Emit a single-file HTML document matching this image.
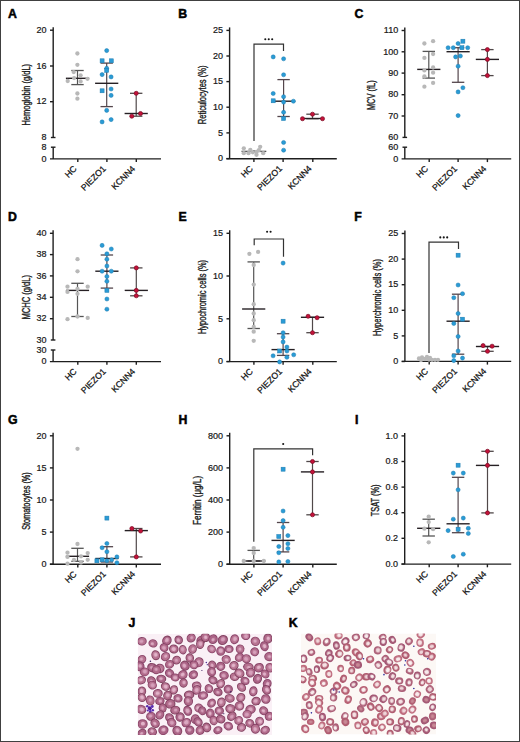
<!DOCTYPE html>
<html><head><meta charset="utf-8"><style>
html,body{margin:0;padding:0;background:#fff;}
body{width:520px;height:742px;overflow:hidden;}
svg text{font-family:"Liberation Sans",sans-serif;}
</style></head><body>
<svg width="520" height="742" viewBox="0 0 520 742" style="display:block">
<defs><filter id="bl" x="-50%" y="-50%" width="200%" height="200%"><feGaussianBlur stdDeviation="0.7"/></filter><filter id="bl2" x="-5%" y="-5%" width="110%" height="110%"><feGaussianBlur stdDeviation="0.35"/></filter></defs>
<rect x="0" y="0" width="520" height="742" fill="#fff"/>
<text x="7.90" y="17.90" font-size="12.3" text-anchor="start" font-weight="bold" fill="#000" stroke="#000" stroke-width="0.5">A</text>
<line x1="53.20" y1="27.20" x2="53.20" y2="137.50" stroke="#1e1e1e" stroke-width="1.4"/>
<line x1="50.90" y1="137.50" x2="55.50" y2="137.50" stroke="#1e1e1e" stroke-width="1.4"/>
<line x1="50.90" y1="147.20" x2="55.50" y2="147.20" stroke="#1e1e1e" stroke-width="1.4"/>
<line x1="53.20" y1="147.20" x2="53.20" y2="158.90" stroke="#1e1e1e" stroke-width="1.4"/>
<line x1="50.00" y1="30.20" x2="53.20" y2="30.20" stroke="#1e1e1e" stroke-width="1.4"/>
<text x="46.60" y="32.95" font-size="9" text-anchor="end" font-weight="normal" fill="#1a1a1a" stroke="#111" stroke-width="0.2">20</text>
<line x1="50.00" y1="66.00" x2="53.20" y2="66.00" stroke="#1e1e1e" stroke-width="1.4"/>
<text x="46.60" y="68.75" font-size="9" text-anchor="end" font-weight="normal" fill="#1a1a1a" stroke="#111" stroke-width="0.2">16</text>
<line x1="50.00" y1="101.70" x2="53.20" y2="101.70" stroke="#1e1e1e" stroke-width="1.4"/>
<text x="46.60" y="104.45" font-size="9" text-anchor="end" font-weight="normal" fill="#1a1a1a" stroke="#111" stroke-width="0.2">12</text>
<text x="46.60" y="140.25" font-size="9" text-anchor="end" font-weight="normal" fill="#1a1a1a" stroke="#111" stroke-width="0.2">8</text>
<text x="46.60" y="149.95" font-size="9" text-anchor="end" font-weight="normal" fill="#1a1a1a" stroke="#111" stroke-width="0.2">8</text>
<text x="46.60" y="161.65" font-size="9" text-anchor="end" font-weight="normal" fill="#1a1a1a" stroke="#111" stroke-width="0.2">0</text>
<line x1="50.00" y1="158.90" x2="161.00" y2="158.90" stroke="#1e1e1e" stroke-width="1.4"/>
<line x1="77.80" y1="158.90" x2="77.80" y2="162.10" stroke="#1e1e1e" stroke-width="1.4"/>
<text x="77.30" y="169.40" font-size="8.7" text-anchor="end" fill="#111" stroke="#111" stroke-width="0.25" transform="rotate(-45 77.30 169.40)">HC</text>
<line x1="106.90" y1="158.90" x2="106.90" y2="162.10" stroke="#1e1e1e" stroke-width="1.4"/>
<text x="106.40" y="169.40" font-size="8.7" text-anchor="end" fill="#111" stroke="#111" stroke-width="0.25" transform="rotate(-45 106.40 169.40)">PIEZO1</text>
<line x1="136.30" y1="158.90" x2="136.30" y2="162.10" stroke="#1e1e1e" stroke-width="1.4"/>
<text x="135.80" y="169.40" font-size="8.7" text-anchor="end" fill="#111" stroke="#111" stroke-width="0.25" transform="rotate(-45 135.80 169.40)">KCNN4</text>
<text x="29.70" y="94.75" font-size="10" font-weight="normal" text-anchor="middle" stroke="#1a1a1a" stroke-width="0.35" fill="#1a1a1a" textLength="61.6" lengthAdjust="spacingAndGlyphs" transform="rotate(-90 29.70 94.75)">Hemoglobin (g/dL)</text>
<line x1="77.50" y1="70.50" x2="77.50" y2="84.60" stroke="#555555" stroke-width="1.2"/>
<line x1="71.30" y1="70.50" x2="83.70" y2="70.50" stroke="#555555" stroke-width="1.3"/>
<line x1="71.30" y1="84.60" x2="83.70" y2="84.60" stroke="#555555" stroke-width="1.3"/>
<line x1="106.70" y1="63.10" x2="106.70" y2="106.60" stroke="#54464c" stroke-width="1.2"/>
<line x1="100.50" y1="63.10" x2="112.90" y2="63.10" stroke="#54464c" stroke-width="1.3"/>
<line x1="100.50" y1="106.60" x2="112.90" y2="106.60" stroke="#54464c" stroke-width="1.3"/>
<line x1="136.20" y1="93.30" x2="136.20" y2="116.20" stroke="#504849" stroke-width="1.2"/>
<line x1="130.00" y1="93.30" x2="142.40" y2="93.30" stroke="#504849" stroke-width="1.3"/>
<line x1="130.00" y1="116.20" x2="142.40" y2="116.20" stroke="#504849" stroke-width="1.3"/>
<line x1="65.90" y1="78.30" x2="89.10" y2="78.30" stroke="#262024" stroke-width="1.4"/>
<line x1="95.10" y1="83.30" x2="118.30" y2="83.30" stroke="#262024" stroke-width="1.4"/>
<line x1="124.60" y1="113.50" x2="147.80" y2="113.50" stroke="#262024" stroke-width="1.4"/>
<circle cx="77.40" cy="53.50" r="2.15" fill="#b8b8b8"/>
<circle cx="77.40" cy="64.80" r="2.15" fill="#b8b8b8"/>
<circle cx="73.70" cy="72.10" r="2.15" fill="#b8b8b8"/>
<circle cx="80.60" cy="75.30" r="2.15" fill="#b8b8b8"/>
<circle cx="74.10" cy="78.10" r="2.15" fill="#b8b8b8"/>
<circle cx="87.50" cy="78.80" r="2.15" fill="#b8b8b8"/>
<circle cx="67.70" cy="81.00" r="2.15" fill="#b8b8b8"/>
<circle cx="80.60" cy="81.40" r="2.15" fill="#b8b8b8"/>
<circle cx="77.40" cy="93.50" r="2.15" fill="#b8b8b8"/>
<circle cx="77.40" cy="98.70" r="2.15" fill="#b8b8b8"/>
<circle cx="106.70" cy="50.60" r="2.05" fill="#2a9bd5" stroke="#1d7cb0" stroke-width="0.5"/>
<rect x="100.10" y="58.80" width="4.0" height="4.0" fill="#2a9bd5" stroke="#1d7cb0" stroke-width="0.5"/>
<rect x="109.30" y="58.80" width="4.0" height="4.0" fill="#2a9bd5" stroke="#1d7cb0" stroke-width="0.5"/>
<circle cx="106.70" cy="68.30" r="2.05" fill="#2a9bd5" stroke="#1d7cb0" stroke-width="0.5"/>
<rect x="104.70" y="68.40" width="4.0" height="4.0" fill="#2a9bd5" stroke="#1d7cb0" stroke-width="0.5"/>
<circle cx="102.10" cy="74.60" r="2.05" fill="#2a9bd5" stroke="#1d7cb0" stroke-width="0.5"/>
<circle cx="111.10" cy="76.90" r="2.05" fill="#2a9bd5" stroke="#1d7cb0" stroke-width="0.5"/>
<rect x="100.10" y="88.80" width="4.0" height="4.0" fill="#2a9bd5" stroke="#1d7cb0" stroke-width="0.5"/>
<circle cx="111.10" cy="89.00" r="2.05" fill="#2a9bd5" stroke="#1d7cb0" stroke-width="0.5"/>
<circle cx="111.10" cy="95.40" r="2.05" fill="#2a9bd5" stroke="#1d7cb0" stroke-width="0.5"/>
<circle cx="106.70" cy="110.40" r="2.05" fill="#2a9bd5" stroke="#1d7cb0" stroke-width="0.5"/>
<circle cx="102.10" cy="121.90" r="2.05" fill="#2a9bd5" stroke="#1d7cb0" stroke-width="0.5"/>
<circle cx="111.10" cy="119.60" r="2.05" fill="#2a9bd5" stroke="#1d7cb0" stroke-width="0.5"/>
<circle cx="136.20" cy="93.30" r="2.05" fill="#c4123a" stroke="#7a0a22" stroke-width="0.7"/>
<circle cx="131.80" cy="116.20" r="2.05" fill="#c4123a" stroke="#7a0a22" stroke-width="0.7"/>
<circle cx="140.50" cy="113.50" r="2.05" fill="#c4123a" stroke="#7a0a22" stroke-width="0.7"/>
<text x="178.30" y="17.90" font-size="12.3" text-anchor="start" font-weight="bold" fill="#000" stroke="#000" stroke-width="0.5">B</text>
<line x1="229.60" y1="27.40" x2="229.60" y2="158.70" stroke="#1e1e1e" stroke-width="1.4"/>
<line x1="226.40" y1="30.40" x2="229.60" y2="30.40" stroke="#1e1e1e" stroke-width="1.4"/>
<text x="223.00" y="33.15" font-size="9" text-anchor="end" font-weight="normal" fill="#1a1a1a" stroke="#111" stroke-width="0.2">25</text>
<line x1="226.40" y1="56.00" x2="229.60" y2="56.00" stroke="#1e1e1e" stroke-width="1.4"/>
<text x="223.00" y="58.75" font-size="9" text-anchor="end" font-weight="normal" fill="#1a1a1a" stroke="#111" stroke-width="0.2">20</text>
<line x1="226.40" y1="81.60" x2="229.60" y2="81.60" stroke="#1e1e1e" stroke-width="1.4"/>
<text x="223.00" y="84.35" font-size="9" text-anchor="end" font-weight="normal" fill="#1a1a1a" stroke="#111" stroke-width="0.2">15</text>
<line x1="226.40" y1="107.20" x2="229.60" y2="107.20" stroke="#1e1e1e" stroke-width="1.4"/>
<text x="223.00" y="109.95" font-size="9" text-anchor="end" font-weight="normal" fill="#1a1a1a" stroke="#111" stroke-width="0.2">10</text>
<line x1="226.40" y1="132.90" x2="229.60" y2="132.90" stroke="#1e1e1e" stroke-width="1.4"/>
<text x="223.00" y="135.65" font-size="9" text-anchor="end" font-weight="normal" fill="#1a1a1a" stroke="#111" stroke-width="0.2">5</text>
<line x1="226.40" y1="158.60" x2="229.60" y2="158.60" stroke="#1e1e1e" stroke-width="1.4"/>
<text x="223.00" y="161.35" font-size="9" text-anchor="end" font-weight="normal" fill="#1a1a1a" stroke="#111" stroke-width="0.2">0</text>
<line x1="226.40" y1="158.70" x2="336.80" y2="158.70" stroke="#1e1e1e" stroke-width="1.4"/>
<line x1="253.90" y1="158.70" x2="253.90" y2="161.90" stroke="#1e1e1e" stroke-width="1.4"/>
<text x="253.40" y="169.20" font-size="8.7" text-anchor="end" fill="#111" stroke="#111" stroke-width="0.25" transform="rotate(-45 253.40 169.20)">HC</text>
<line x1="283.10" y1="158.70" x2="283.10" y2="161.90" stroke="#1e1e1e" stroke-width="1.4"/>
<text x="282.60" y="169.20" font-size="8.7" text-anchor="end" fill="#111" stroke="#111" stroke-width="0.25" transform="rotate(-45 282.60 169.20)">PIEZO1</text>
<line x1="312.80" y1="158.70" x2="312.80" y2="161.90" stroke="#1e1e1e" stroke-width="1.4"/>
<text x="312.30" y="169.20" font-size="8.7" text-anchor="end" fill="#111" stroke="#111" stroke-width="0.25" transform="rotate(-45 312.30 169.20)">KCNN4</text>
<text x="206.00" y="94.85" font-size="10" font-weight="normal" text-anchor="middle" stroke="#1a1a1a" stroke-width="0.35" fill="#1a1a1a" textLength="58.6" lengthAdjust="spacingAndGlyphs" transform="rotate(-90 206.00 94.85)">Reticulocytes (%)</text>
<polyline points="254,141 254,44.1 283.5,44.1 283.5,51" fill="none" stroke="#333" stroke-width="1.2"/>
<circle cx="265.30" cy="39.30" r="1.05" fill="#151515"/>
<circle cx="268.75" cy="39.30" r="1.05" fill="#151515"/>
<circle cx="272.20" cy="39.30" r="1.05" fill="#151515"/>
<line x1="253.90" y1="150.00" x2="253.90" y2="153.00" stroke="#555555" stroke-width="1.2"/>
<line x1="253.90" y1="150.00" x2="253.90" y2="150.00" stroke="#555555" stroke-width="1.3"/>
<line x1="253.90" y1="153.00" x2="253.90" y2="153.00" stroke="#555555" stroke-width="1.3"/>
<line x1="283.60" y1="79.60" x2="283.60" y2="116.50" stroke="#54464c" stroke-width="1.2"/>
<line x1="277.40" y1="79.60" x2="289.80" y2="79.60" stroke="#54464c" stroke-width="1.3"/>
<line x1="277.40" y1="116.50" x2="289.80" y2="116.50" stroke="#54464c" stroke-width="1.3"/>
<line x1="312.50" y1="114.20" x2="312.50" y2="118.70" stroke="#504849" stroke-width="1.2"/>
<line x1="306.30" y1="114.20" x2="318.70" y2="114.20" stroke="#504849" stroke-width="1.3"/>
<line x1="306.30" y1="118.70" x2="318.70" y2="118.70" stroke="#504849" stroke-width="1.3"/>
<line x1="241.50" y1="151.40" x2="266.30" y2="151.40" stroke="#555" stroke-width="1.4"/>
<line x1="272.00" y1="101.20" x2="295.20" y2="101.20" stroke="#262024" stroke-width="1.4"/>
<line x1="302.50" y1="118.50" x2="322.50" y2="118.50" stroke="#262024" stroke-width="1.4"/>
<circle cx="243.80" cy="148.30" r="2.15" fill="#b8b8b8"/>
<circle cx="243.80" cy="153.20" r="2.15" fill="#b8b8b8"/>
<circle cx="250.30" cy="149.80" r="2.15" fill="#b8b8b8"/>
<circle cx="248.50" cy="153.20" r="2.15" fill="#b8b8b8"/>
<circle cx="252.80" cy="152.30" r="2.15" fill="#b8b8b8"/>
<circle cx="256.50" cy="154.80" r="2.15" fill="#b8b8b8"/>
<circle cx="256.50" cy="152.00" r="2.15" fill="#b8b8b8"/>
<circle cx="260.20" cy="146.80" r="2.15" fill="#b8b8b8"/>
<circle cx="258.90" cy="150.20" r="2.15" fill="#b8b8b8"/>
<circle cx="263.20" cy="153.20" r="2.15" fill="#b8b8b8"/>
<circle cx="273.20" cy="56.90" r="2.05" fill="#2a9bd5" stroke="#1d7cb0" stroke-width="0.5"/>
<circle cx="283.60" cy="58.80" r="2.05" fill="#2a9bd5" stroke="#1d7cb0" stroke-width="0.5"/>
<circle cx="283.60" cy="74.80" r="2.05" fill="#2a9bd5" stroke="#1d7cb0" stroke-width="0.5"/>
<circle cx="273.20" cy="93.50" r="2.05" fill="#2a9bd5" stroke="#1d7cb0" stroke-width="0.5"/>
<circle cx="283.60" cy="96.70" r="2.05" fill="#2a9bd5" stroke="#1d7cb0" stroke-width="0.5"/>
<rect x="271.20" y="98.80" width="4.0" height="4.0" fill="#2a9bd5" stroke="#1d7cb0" stroke-width="0.5"/>
<circle cx="283.60" cy="102.10" r="2.05" fill="#2a9bd5" stroke="#1d7cb0" stroke-width="0.5"/>
<circle cx="293.40" cy="101.20" r="2.05" fill="#2a9bd5" stroke="#1d7cb0" stroke-width="0.5"/>
<circle cx="283.60" cy="112.30" r="2.05" fill="#2a9bd5" stroke="#1d7cb0" stroke-width="0.5"/>
<rect x="281.60" y="116.50" width="4.0" height="4.0" fill="#2a9bd5" stroke="#1d7cb0" stroke-width="0.5"/>
<circle cx="283.60" cy="142.50" r="2.05" fill="#2a9bd5" stroke="#1d7cb0" stroke-width="0.5"/>
<circle cx="283.60" cy="150.20" r="2.05" fill="#2a9bd5" stroke="#1d7cb0" stroke-width="0.5"/>
<circle cx="312.50" cy="114.20" r="2.05" fill="#c4123a" stroke="#7a0a22" stroke-width="0.7"/>
<circle cx="302.50" cy="118.70" r="2.05" fill="#c4123a" stroke="#7a0a22" stroke-width="0.7"/>
<circle cx="322.50" cy="118.70" r="2.05" fill="#c4123a" stroke="#7a0a22" stroke-width="0.7"/>
<text x="354.50" y="17.90" font-size="12.3" text-anchor="start" font-weight="bold" fill="#000" stroke="#000" stroke-width="0.5">C</text>
<line x1="404.80" y1="27.50" x2="404.80" y2="137.40" stroke="#1e1e1e" stroke-width="1.4"/>
<line x1="402.50" y1="137.40" x2="407.10" y2="137.40" stroke="#1e1e1e" stroke-width="1.4"/>
<line x1="402.50" y1="147.20" x2="407.10" y2="147.20" stroke="#1e1e1e" stroke-width="1.4"/>
<line x1="404.80" y1="147.20" x2="404.80" y2="158.90" stroke="#1e1e1e" stroke-width="1.4"/>
<line x1="401.60" y1="30.50" x2="404.80" y2="30.50" stroke="#1e1e1e" stroke-width="1.4"/>
<text x="398.20" y="33.25" font-size="9" text-anchor="end" font-weight="normal" fill="#1a1a1a" stroke="#111" stroke-width="0.2">110</text>
<line x1="401.60" y1="51.80" x2="404.80" y2="51.80" stroke="#1e1e1e" stroke-width="1.4"/>
<text x="398.20" y="54.55" font-size="9" text-anchor="end" font-weight="normal" fill="#1a1a1a" stroke="#111" stroke-width="0.2">100</text>
<line x1="401.60" y1="73.10" x2="404.80" y2="73.10" stroke="#1e1e1e" stroke-width="1.4"/>
<text x="398.20" y="75.85" font-size="9" text-anchor="end" font-weight="normal" fill="#1a1a1a" stroke="#111" stroke-width="0.2">90</text>
<line x1="401.60" y1="94.70" x2="404.80" y2="94.70" stroke="#1e1e1e" stroke-width="1.4"/>
<text x="398.20" y="97.45" font-size="9" text-anchor="end" font-weight="normal" fill="#1a1a1a" stroke="#111" stroke-width="0.2">80</text>
<line x1="401.60" y1="116.00" x2="404.80" y2="116.00" stroke="#1e1e1e" stroke-width="1.4"/>
<text x="398.20" y="118.75" font-size="9" text-anchor="end" font-weight="normal" fill="#1a1a1a" stroke="#111" stroke-width="0.2">70</text>
<text x="398.20" y="140.15" font-size="9" text-anchor="end" font-weight="normal" fill="#1a1a1a" stroke="#111" stroke-width="0.2">60</text>
<text x="398.20" y="149.95" font-size="9" text-anchor="end" font-weight="normal" fill="#1a1a1a" stroke="#111" stroke-width="0.2">60</text>
<text x="398.20" y="161.65" font-size="9" text-anchor="end" font-weight="normal" fill="#1a1a1a" stroke="#111" stroke-width="0.2">0</text>
<line x1="401.60" y1="158.90" x2="511.20" y2="158.90" stroke="#1e1e1e" stroke-width="1.4"/>
<line x1="429.20" y1="158.90" x2="429.20" y2="162.10" stroke="#1e1e1e" stroke-width="1.4"/>
<text x="428.70" y="169.40" font-size="8.7" text-anchor="end" fill="#111" stroke="#111" stroke-width="0.25" transform="rotate(-45 428.70 169.40)">HC</text>
<line x1="458.10" y1="158.90" x2="458.10" y2="162.10" stroke="#1e1e1e" stroke-width="1.4"/>
<text x="457.60" y="169.40" font-size="8.7" text-anchor="end" fill="#111" stroke="#111" stroke-width="0.25" transform="rotate(-45 457.60 169.40)">PIEZO1</text>
<line x1="487.40" y1="158.90" x2="487.40" y2="162.10" stroke="#1e1e1e" stroke-width="1.4"/>
<text x="486.90" y="169.40" font-size="8.7" text-anchor="end" fill="#111" stroke="#111" stroke-width="0.25" transform="rotate(-45 486.90 169.40)">KCNN4</text>
<text x="375.50" y="95.20" font-size="10" font-weight="normal" text-anchor="middle" stroke="#1a1a1a" stroke-width="0.35" fill="#1a1a1a" textLength="29.8" lengthAdjust="spacingAndGlyphs" transform="rotate(-90 375.50 95.20)">MCV (fL)</text>
<line x1="428.80" y1="51.40" x2="428.80" y2="78.10" stroke="#555555" stroke-width="1.2"/>
<line x1="422.60" y1="51.40" x2="435.00" y2="51.40" stroke="#555555" stroke-width="1.3"/>
<line x1="422.60" y1="78.10" x2="435.00" y2="78.10" stroke="#555555" stroke-width="1.3"/>
<line x1="458.10" y1="47.70" x2="458.10" y2="82.30" stroke="#54464c" stroke-width="1.2"/>
<line x1="451.90" y1="47.70" x2="464.30" y2="47.70" stroke="#54464c" stroke-width="1.3"/>
<line x1="451.90" y1="82.30" x2="464.30" y2="82.30" stroke="#54464c" stroke-width="1.3"/>
<line x1="487.40" y1="49.60" x2="487.40" y2="75.60" stroke="#504849" stroke-width="1.2"/>
<line x1="481.20" y1="49.60" x2="493.60" y2="49.60" stroke="#504849" stroke-width="1.3"/>
<line x1="481.20" y1="75.60" x2="493.60" y2="75.60" stroke="#504849" stroke-width="1.3"/>
<line x1="417.20" y1="69.40" x2="440.40" y2="69.40" stroke="#262024" stroke-width="1.4"/>
<line x1="446.50" y1="51.70" x2="469.70" y2="51.70" stroke="#262024" stroke-width="1.4"/>
<line x1="475.80" y1="59.40" x2="499.00" y2="59.40" stroke="#262024" stroke-width="1.4"/>
<circle cx="424.40" cy="43.50" r="2.15" fill="#b8b8b8"/>
<circle cx="433.10" cy="41.20" r="2.15" fill="#b8b8b8"/>
<circle cx="433.10" cy="54.00" r="2.15" fill="#b8b8b8"/>
<circle cx="424.40" cy="57.90" r="2.15" fill="#b8b8b8"/>
<circle cx="433.10" cy="67.50" r="2.15" fill="#b8b8b8"/>
<circle cx="424.40" cy="70.40" r="2.15" fill="#b8b8b8"/>
<circle cx="433.10" cy="72.70" r="2.15" fill="#b8b8b8"/>
<circle cx="424.40" cy="76.50" r="2.15" fill="#b8b8b8"/>
<circle cx="424.40" cy="86.70" r="2.15" fill="#b8b8b8"/>
<circle cx="433.10" cy="82.90" r="2.15" fill="#b8b8b8"/>
<rect x="460.90" y="39.20" width="4.0" height="4.0" fill="#2a9bd5" stroke="#1d7cb0" stroke-width="0.5"/>
<circle cx="458.10" cy="43.50" r="2.05" fill="#2a9bd5" stroke="#1d7cb0" stroke-width="0.5"/>
<circle cx="448.10" cy="47.70" r="2.05" fill="#2a9bd5" stroke="#1d7cb0" stroke-width="0.5"/>
<circle cx="453.30" cy="47.70" r="2.05" fill="#2a9bd5" stroke="#1d7cb0" stroke-width="0.5"/>
<rect x="459.90" y="45.70" width="4.0" height="4.0" fill="#2a9bd5" stroke="#1d7cb0" stroke-width="0.5"/>
<circle cx="467.70" cy="47.70" r="2.05" fill="#2a9bd5" stroke="#1d7cb0" stroke-width="0.5"/>
<circle cx="455.60" cy="56.90" r="2.05" fill="#2a9bd5" stroke="#1d7cb0" stroke-width="0.5"/>
<circle cx="460.40" cy="56.00" r="2.05" fill="#2a9bd5" stroke="#1d7cb0" stroke-width="0.5"/>
<circle cx="458.10" cy="66.20" r="2.05" fill="#2a9bd5" stroke="#1d7cb0" stroke-width="0.5"/>
<circle cx="462.90" cy="87.70" r="2.05" fill="#2a9bd5" stroke="#1d7cb0" stroke-width="0.5"/>
<circle cx="458.10" cy="91.90" r="2.05" fill="#2a9bd5" stroke="#1d7cb0" stroke-width="0.5"/>
<circle cx="458.10" cy="115.60" r="2.05" fill="#2a9bd5" stroke="#1d7cb0" stroke-width="0.5"/>
<circle cx="487.40" cy="49.60" r="2.05" fill="#c4123a" stroke="#7a0a22" stroke-width="0.7"/>
<circle cx="487.40" cy="59.40" r="2.05" fill="#c4123a" stroke="#7a0a22" stroke-width="0.7"/>
<circle cx="487.40" cy="75.60" r="2.05" fill="#c4123a" stroke="#7a0a22" stroke-width="0.7"/>
<text x="7.90" y="220.80" font-size="12.3" text-anchor="start" font-weight="bold" fill="#000" stroke="#000" stroke-width="0.5">D</text>
<line x1="53.10" y1="230.30" x2="53.10" y2="340.00" stroke="#1e1e1e" stroke-width="1.4"/>
<line x1="50.80" y1="340.00" x2="55.40" y2="340.00" stroke="#1e1e1e" stroke-width="1.4"/>
<line x1="50.80" y1="350.00" x2="55.40" y2="350.00" stroke="#1e1e1e" stroke-width="1.4"/>
<line x1="53.10" y1="350.00" x2="53.10" y2="361.60" stroke="#1e1e1e" stroke-width="1.4"/>
<line x1="49.90" y1="233.30" x2="53.10" y2="233.30" stroke="#1e1e1e" stroke-width="1.4"/>
<text x="46.50" y="236.05" font-size="9" text-anchor="end" font-weight="normal" fill="#1a1a1a" stroke="#111" stroke-width="0.2">40</text>
<line x1="49.90" y1="254.60" x2="53.10" y2="254.60" stroke="#1e1e1e" stroke-width="1.4"/>
<text x="46.50" y="257.35" font-size="9" text-anchor="end" font-weight="normal" fill="#1a1a1a" stroke="#111" stroke-width="0.2">38</text>
<line x1="49.90" y1="275.90" x2="53.10" y2="275.90" stroke="#1e1e1e" stroke-width="1.4"/>
<text x="46.50" y="278.65" font-size="9" text-anchor="end" font-weight="normal" fill="#1a1a1a" stroke="#111" stroke-width="0.2">36</text>
<line x1="49.90" y1="297.30" x2="53.10" y2="297.30" stroke="#1e1e1e" stroke-width="1.4"/>
<text x="46.50" y="300.05" font-size="9" text-anchor="end" font-weight="normal" fill="#1a1a1a" stroke="#111" stroke-width="0.2">34</text>
<line x1="49.90" y1="318.70" x2="53.10" y2="318.70" stroke="#1e1e1e" stroke-width="1.4"/>
<text x="46.50" y="321.45" font-size="9" text-anchor="end" font-weight="normal" fill="#1a1a1a" stroke="#111" stroke-width="0.2">32</text>
<text x="46.50" y="342.75" font-size="9" text-anchor="end" font-weight="normal" fill="#1a1a1a" stroke="#111" stroke-width="0.2">30</text>
<text x="46.50" y="352.75" font-size="9" text-anchor="end" font-weight="normal" fill="#1a1a1a" stroke="#111" stroke-width="0.2">30</text>
<text x="46.50" y="364.35" font-size="9" text-anchor="end" font-weight="normal" fill="#1a1a1a" stroke="#111" stroke-width="0.2">0</text>
<line x1="49.90" y1="361.60" x2="161.00" y2="361.60" stroke="#1e1e1e" stroke-width="1.4"/>
<line x1="77.80" y1="361.60" x2="77.80" y2="364.80" stroke="#1e1e1e" stroke-width="1.4"/>
<text x="77.30" y="372.10" font-size="8.7" text-anchor="end" fill="#111" stroke="#111" stroke-width="0.25" transform="rotate(-45 77.30 372.10)">HC</text>
<line x1="106.90" y1="361.60" x2="106.90" y2="364.80" stroke="#1e1e1e" stroke-width="1.4"/>
<text x="106.40" y="372.10" font-size="8.7" text-anchor="end" fill="#111" stroke="#111" stroke-width="0.25" transform="rotate(-45 106.40 372.10)">PIEZO1</text>
<line x1="136.30" y1="361.60" x2="136.30" y2="364.80" stroke="#1e1e1e" stroke-width="1.4"/>
<text x="135.80" y="372.10" font-size="8.7" text-anchor="end" fill="#111" stroke="#111" stroke-width="0.25" transform="rotate(-45 135.80 372.10)">KCNN4</text>
<text x="29.60" y="297.25" font-size="10" font-weight="normal" text-anchor="middle" stroke="#1a1a1a" stroke-width="0.35" fill="#1a1a1a" textLength="44.6" lengthAdjust="spacingAndGlyphs" transform="rotate(-90 29.60 297.25)">MCHC (g/dL)</text>
<line x1="77.50" y1="283.30" x2="77.50" y2="316.50" stroke="#555555" stroke-width="1.2"/>
<line x1="71.30" y1="283.30" x2="83.70" y2="283.30" stroke="#555555" stroke-width="1.3"/>
<line x1="71.30" y1="316.50" x2="83.70" y2="316.50" stroke="#555555" stroke-width="1.3"/>
<line x1="106.90" y1="255.00" x2="106.90" y2="288.10" stroke="#54464c" stroke-width="1.2"/>
<line x1="100.70" y1="255.00" x2="113.10" y2="255.00" stroke="#54464c" stroke-width="1.3"/>
<line x1="100.70" y1="288.10" x2="113.10" y2="288.10" stroke="#54464c" stroke-width="1.3"/>
<line x1="136.30" y1="267.90" x2="136.30" y2="295.80" stroke="#504849" stroke-width="1.2"/>
<line x1="130.10" y1="267.90" x2="142.50" y2="267.90" stroke="#504849" stroke-width="1.3"/>
<line x1="130.10" y1="295.80" x2="142.50" y2="295.80" stroke="#504849" stroke-width="1.3"/>
<line x1="65.90" y1="290.40" x2="89.10" y2="290.40" stroke="#262024" stroke-width="1.4"/>
<line x1="95.30" y1="271.20" x2="118.50" y2="271.20" stroke="#262024" stroke-width="1.4"/>
<line x1="124.70" y1="290.40" x2="147.90" y2="290.40" stroke="#262024" stroke-width="1.4"/>
<circle cx="77.50" cy="259.20" r="2.15" fill="#b8b8b8"/>
<circle cx="77.50" cy="271.30" r="2.15" fill="#b8b8b8"/>
<circle cx="67.50" cy="286.70" r="2.15" fill="#b8b8b8"/>
<circle cx="87.70" cy="286.70" r="2.15" fill="#b8b8b8"/>
<circle cx="67.50" cy="291.90" r="2.15" fill="#b8b8b8"/>
<circle cx="77.50" cy="289.00" r="2.15" fill="#b8b8b8"/>
<circle cx="77.50" cy="293.80" r="2.15" fill="#b8b8b8"/>
<circle cx="67.50" cy="319.20" r="2.15" fill="#b8b8b8"/>
<circle cx="87.70" cy="317.90" r="2.15" fill="#b8b8b8"/>
<circle cx="77.50" cy="316.50" r="2.15" fill="#b8b8b8"/>
<circle cx="102.10" cy="245.40" r="2.05" fill="#2a9bd5" stroke="#1d7cb0" stroke-width="0.5"/>
<circle cx="111.30" cy="249.00" r="2.05" fill="#2a9bd5" stroke="#1d7cb0" stroke-width="0.5"/>
<circle cx="106.90" cy="253.80" r="2.05" fill="#2a9bd5" stroke="#1d7cb0" stroke-width="0.5"/>
<circle cx="106.90" cy="259.20" r="2.05" fill="#2a9bd5" stroke="#1d7cb0" stroke-width="0.5"/>
<circle cx="106.90" cy="266.00" r="2.05" fill="#2a9bd5" stroke="#1d7cb0" stroke-width="0.5"/>
<circle cx="102.10" cy="271.20" r="2.05" fill="#2a9bd5" stroke="#1d7cb0" stroke-width="0.5"/>
<circle cx="111.30" cy="271.20" r="2.05" fill="#2a9bd5" stroke="#1d7cb0" stroke-width="0.5"/>
<circle cx="106.90" cy="276.50" r="2.05" fill="#2a9bd5" stroke="#1d7cb0" stroke-width="0.5"/>
<circle cx="106.90" cy="281.30" r="2.05" fill="#2a9bd5" stroke="#1d7cb0" stroke-width="0.5"/>
<rect x="104.90" y="288.40" width="4.0" height="4.0" fill="#2a9bd5" stroke="#1d7cb0" stroke-width="0.5"/>
<circle cx="106.90" cy="299.00" r="2.05" fill="#2a9bd5" stroke="#1d7cb0" stroke-width="0.5"/>
<circle cx="106.90" cy="309.20" r="2.05" fill="#2a9bd5" stroke="#1d7cb0" stroke-width="0.5"/>
<circle cx="136.30" cy="267.90" r="2.05" fill="#c4123a" stroke="#7a0a22" stroke-width="0.7"/>
<circle cx="136.30" cy="290.40" r="2.05" fill="#c4123a" stroke="#7a0a22" stroke-width="0.7"/>
<circle cx="136.30" cy="295.80" r="2.05" fill="#c4123a" stroke="#7a0a22" stroke-width="0.7"/>
<text x="178.60" y="220.80" font-size="12.3" text-anchor="start" font-weight="bold" fill="#000" stroke="#000" stroke-width="0.5">E</text>
<line x1="229.70" y1="230.30" x2="229.70" y2="361.60" stroke="#1e1e1e" stroke-width="1.4"/>
<line x1="226.50" y1="233.30" x2="229.70" y2="233.30" stroke="#1e1e1e" stroke-width="1.4"/>
<text x="223.10" y="236.05" font-size="9" text-anchor="end" font-weight="normal" fill="#1a1a1a" stroke="#111" stroke-width="0.2">15</text>
<line x1="226.50" y1="276.00" x2="229.70" y2="276.00" stroke="#1e1e1e" stroke-width="1.4"/>
<text x="223.10" y="278.75" font-size="9" text-anchor="end" font-weight="normal" fill="#1a1a1a" stroke="#111" stroke-width="0.2">10</text>
<line x1="226.50" y1="318.80" x2="229.70" y2="318.80" stroke="#1e1e1e" stroke-width="1.4"/>
<text x="223.10" y="321.55" font-size="9" text-anchor="end" font-weight="normal" fill="#1a1a1a" stroke="#111" stroke-width="0.2">5</text>
<line x1="226.50" y1="361.50" x2="229.70" y2="361.50" stroke="#1e1e1e" stroke-width="1.4"/>
<text x="223.10" y="364.25" font-size="9" text-anchor="end" font-weight="normal" fill="#1a1a1a" stroke="#111" stroke-width="0.2">0</text>
<line x1="226.50" y1="361.60" x2="336.80" y2="361.60" stroke="#1e1e1e" stroke-width="1.4"/>
<line x1="253.90" y1="361.60" x2="253.90" y2="364.80" stroke="#1e1e1e" stroke-width="1.4"/>
<text x="253.40" y="372.10" font-size="8.7" text-anchor="end" fill="#111" stroke="#111" stroke-width="0.25" transform="rotate(-45 253.40 372.10)">HC</text>
<line x1="283.10" y1="361.60" x2="283.10" y2="364.80" stroke="#1e1e1e" stroke-width="1.4"/>
<text x="282.60" y="372.10" font-size="8.7" text-anchor="end" fill="#111" stroke="#111" stroke-width="0.25" transform="rotate(-45 282.60 372.10)">PIEZO1</text>
<line x1="312.80" y1="361.60" x2="312.80" y2="364.80" stroke="#1e1e1e" stroke-width="1.4"/>
<text x="312.30" y="372.10" font-size="8.7" text-anchor="end" fill="#111" stroke="#111" stroke-width="0.25" transform="rotate(-45 312.30 372.10)">KCNN4</text>
<text x="205.60" y="297.00" font-size="10" font-weight="normal" text-anchor="middle" stroke="#1a1a1a" stroke-width="0.35" fill="#1a1a1a" textLength="74.2" lengthAdjust="spacingAndGlyphs" transform="rotate(-90 205.60 297.00)">Hypochromic cells (%)</text>
<polyline points="254.2,245.2 254.2,239 283.5,239 283.5,256.7" fill="none" stroke="#333" stroke-width="1.2"/>
<circle cx="267.12" cy="231.70" r="1.05" fill="#151515"/>
<circle cx="270.58" cy="231.70" r="1.05" fill="#151515"/>
<line x1="253.70" y1="261.90" x2="253.70" y2="328.50" stroke="#555555" stroke-width="1.2"/>
<line x1="247.50" y1="261.90" x2="259.90" y2="261.90" stroke="#555555" stroke-width="1.3"/>
<line x1="247.50" y1="328.50" x2="259.90" y2="328.50" stroke="#555555" stroke-width="1.3"/>
<line x1="283.10" y1="333.70" x2="283.10" y2="355.40" stroke="#54464c" stroke-width="1.2"/>
<line x1="276.90" y1="333.70" x2="289.30" y2="333.70" stroke="#54464c" stroke-width="1.3"/>
<line x1="276.90" y1="355.40" x2="289.30" y2="355.40" stroke="#54464c" stroke-width="1.3"/>
<line x1="312.50" y1="317.30" x2="312.50" y2="332.70" stroke="#504849" stroke-width="1.2"/>
<line x1="306.30" y1="317.30" x2="318.70" y2="317.30" stroke="#504849" stroke-width="1.3"/>
<line x1="306.30" y1="332.70" x2="318.70" y2="332.70" stroke="#504849" stroke-width="1.3"/>
<line x1="242.10" y1="309.00" x2="265.30" y2="309.00" stroke="#262024" stroke-width="1.4"/>
<line x1="271.50" y1="349.60" x2="294.70" y2="349.60" stroke="#262024" stroke-width="1.4"/>
<line x1="300.90" y1="317.30" x2="324.10" y2="317.30" stroke="#262024" stroke-width="1.4"/>
<circle cx="249.40" cy="253.80" r="2.15" fill="#b8b8b8"/>
<circle cx="258.10" cy="251.90" r="2.15" fill="#b8b8b8"/>
<circle cx="253.70" cy="265.00" r="2.15" fill="#b8b8b8"/>
<circle cx="253.70" cy="284.60" r="2.15" fill="#b8b8b8"/>
<circle cx="253.70" cy="304.20" r="2.15" fill="#b8b8b8"/>
<circle cx="253.70" cy="313.50" r="2.15" fill="#b8b8b8"/>
<circle cx="253.70" cy="320.20" r="2.15" fill="#b8b8b8"/>
<circle cx="253.70" cy="326.90" r="2.15" fill="#b8b8b8"/>
<circle cx="253.70" cy="331.70" r="2.15" fill="#b8b8b8"/>
<circle cx="253.70" cy="340.80" r="2.15" fill="#b8b8b8"/>
<circle cx="283.10" cy="263.10" r="2.05" fill="#2a9bd5" stroke="#1d7cb0" stroke-width="0.5"/>
<rect x="281.10" y="319.20" width="4.0" height="4.0" fill="#2a9bd5" stroke="#1d7cb0" stroke-width="0.5"/>
<circle cx="283.10" cy="332.70" r="2.05" fill="#2a9bd5" stroke="#1d7cb0" stroke-width="0.5"/>
<circle cx="283.10" cy="337.10" r="2.05" fill="#2a9bd5" stroke="#1d7cb0" stroke-width="0.5"/>
<circle cx="283.10" cy="341.90" r="2.05" fill="#2a9bd5" stroke="#1d7cb0" stroke-width="0.5"/>
<circle cx="286.90" cy="347.10" r="2.05" fill="#2a9bd5" stroke="#1d7cb0" stroke-width="0.5"/>
<rect x="277.60" y="349.00" width="4.0" height="4.0" fill="#2a9bd5" stroke="#1d7cb0" stroke-width="0.5"/>
<circle cx="286.90" cy="351.00" r="2.05" fill="#2a9bd5" stroke="#1d7cb0" stroke-width="0.5"/>
<circle cx="273.10" cy="355.80" r="2.05" fill="#2a9bd5" stroke="#1d7cb0" stroke-width="0.5"/>
<circle cx="293.70" cy="354.80" r="2.05" fill="#2a9bd5" stroke="#1d7cb0" stroke-width="0.5"/>
<circle cx="286.90" cy="357.30" r="2.05" fill="#2a9bd5" stroke="#1d7cb0" stroke-width="0.5"/>
<circle cx="279.60" cy="361.90" r="2.05" fill="#2a9bd5" stroke="#1d7cb0" stroke-width="0.5"/>
<circle cx="308.10" cy="316.30" r="2.05" fill="#c4123a" stroke="#7a0a22" stroke-width="0.7"/>
<circle cx="317.10" cy="317.70" r="2.05" fill="#c4123a" stroke="#7a0a22" stroke-width="0.7"/>
<circle cx="312.50" cy="332.70" r="2.05" fill="#c4123a" stroke="#7a0a22" stroke-width="0.7"/>
<text x="354.30" y="220.80" font-size="12.3" text-anchor="start" font-weight="bold" fill="#000" stroke="#000" stroke-width="0.5">F</text>
<line x1="404.90" y1="230.50" x2="404.90" y2="361.40" stroke="#1e1e1e" stroke-width="1.4"/>
<line x1="401.70" y1="233.50" x2="404.90" y2="233.50" stroke="#1e1e1e" stroke-width="1.4"/>
<text x="398.30" y="236.25" font-size="9" text-anchor="end" font-weight="normal" fill="#1a1a1a" stroke="#111" stroke-width="0.2">25</text>
<line x1="401.70" y1="259.10" x2="404.90" y2="259.10" stroke="#1e1e1e" stroke-width="1.4"/>
<text x="398.30" y="261.85" font-size="9" text-anchor="end" font-weight="normal" fill="#1a1a1a" stroke="#111" stroke-width="0.2">20</text>
<line x1="401.70" y1="284.70" x2="404.90" y2="284.70" stroke="#1e1e1e" stroke-width="1.4"/>
<text x="398.30" y="287.45" font-size="9" text-anchor="end" font-weight="normal" fill="#1a1a1a" stroke="#111" stroke-width="0.2">15</text>
<line x1="401.70" y1="310.30" x2="404.90" y2="310.30" stroke="#1e1e1e" stroke-width="1.4"/>
<text x="398.30" y="313.05" font-size="9" text-anchor="end" font-weight="normal" fill="#1a1a1a" stroke="#111" stroke-width="0.2">10</text>
<line x1="401.70" y1="335.90" x2="404.90" y2="335.90" stroke="#1e1e1e" stroke-width="1.4"/>
<text x="398.30" y="338.65" font-size="9" text-anchor="end" font-weight="normal" fill="#1a1a1a" stroke="#111" stroke-width="0.2">5</text>
<line x1="401.70" y1="361.50" x2="404.90" y2="361.50" stroke="#1e1e1e" stroke-width="1.4"/>
<text x="398.30" y="364.25" font-size="9" text-anchor="end" font-weight="normal" fill="#1a1a1a" stroke="#111" stroke-width="0.2">0</text>
<line x1="401.70" y1="361.40" x2="511.20" y2="361.40" stroke="#1e1e1e" stroke-width="1.4"/>
<line x1="429.20" y1="361.40" x2="429.20" y2="364.60" stroke="#1e1e1e" stroke-width="1.4"/>
<text x="428.70" y="371.90" font-size="8.7" text-anchor="end" fill="#111" stroke="#111" stroke-width="0.25" transform="rotate(-45 428.70 371.90)">HC</text>
<line x1="458.10" y1="361.40" x2="458.10" y2="364.60" stroke="#1e1e1e" stroke-width="1.4"/>
<text x="457.60" y="371.90" font-size="8.7" text-anchor="end" fill="#111" stroke="#111" stroke-width="0.25" transform="rotate(-45 457.60 371.90)">PIEZO1</text>
<line x1="487.40" y1="361.40" x2="487.40" y2="364.60" stroke="#1e1e1e" stroke-width="1.4"/>
<text x="486.90" y="371.90" font-size="8.7" text-anchor="end" fill="#111" stroke="#111" stroke-width="0.25" transform="rotate(-45 486.90 371.90)">KCNN4</text>
<text x="380.60" y="297.50" font-size="10" font-weight="normal" text-anchor="middle" stroke="#1a1a1a" stroke-width="0.35" fill="#1a1a1a" textLength="77" lengthAdjust="spacingAndGlyphs" transform="rotate(-90 380.60 297.50)">Hyperchromic cells (%)</text>
<polyline points="429,352.9 429,242.2 458.5,242.2 458.5,249" fill="none" stroke="#333" stroke-width="1.2"/>
<circle cx="440.30" cy="237.40" r="1.05" fill="#151515"/>
<circle cx="443.75" cy="237.40" r="1.05" fill="#151515"/>
<circle cx="447.20" cy="237.40" r="1.05" fill="#151515"/>
<line x1="428.70" y1="358.00" x2="428.70" y2="360.00" stroke="#555555" stroke-width="1.2"/>
<line x1="428.70" y1="358.00" x2="428.70" y2="358.00" stroke="#555555" stroke-width="1.3"/>
<line x1="428.70" y1="360.00" x2="428.70" y2="360.00" stroke="#555555" stroke-width="1.3"/>
<line x1="458.10" y1="294.20" x2="458.10" y2="354.20" stroke="#54464c" stroke-width="1.2"/>
<line x1="451.90" y1="294.20" x2="464.30" y2="294.20" stroke="#54464c" stroke-width="1.3"/>
<line x1="451.90" y1="354.20" x2="464.30" y2="354.20" stroke="#54464c" stroke-width="1.3"/>
<line x1="487.50" y1="346.50" x2="487.50" y2="351.30" stroke="#504849" stroke-width="1.2"/>
<line x1="481.30" y1="346.50" x2="493.70" y2="346.50" stroke="#504849" stroke-width="1.3"/>
<line x1="481.30" y1="351.30" x2="493.70" y2="351.30" stroke="#504849" stroke-width="1.3"/>
<line x1="446.50" y1="321.20" x2="469.70" y2="321.20" stroke="#262024" stroke-width="1.4"/>
<line x1="475.90" y1="346.50" x2="499.10" y2="346.50" stroke="#262024" stroke-width="1.4"/>
<circle cx="419.00" cy="358.50" r="2.15" fill="#b8b8b8"/>
<circle cx="422.00" cy="357.50" r="2.15" fill="#b8b8b8"/>
<circle cx="425.00" cy="359.00" r="2.15" fill="#b8b8b8"/>
<circle cx="427.00" cy="357.00" r="2.15" fill="#b8b8b8"/>
<circle cx="429.00" cy="359.50" r="2.15" fill="#b8b8b8"/>
<circle cx="432.00" cy="359.80" r="2.15" fill="#b8b8b8"/>
<circle cx="435.00" cy="359.80" r="2.15" fill="#b8b8b8"/>
<circle cx="438.00" cy="359.80" r="2.15" fill="#b8b8b8"/>
<circle cx="421.00" cy="360.00" r="2.15" fill="#b8b8b8"/>
<circle cx="430.00" cy="358.00" r="2.15" fill="#b8b8b8"/>
<rect x="456.10" y="253.20" width="4.0" height="4.0" fill="#2a9bd5" stroke="#1d7cb0" stroke-width="0.5"/>
<circle cx="458.10" cy="285.00" r="2.05" fill="#2a9bd5" stroke="#1d7cb0" stroke-width="0.5"/>
<circle cx="462.50" cy="293.70" r="2.05" fill="#2a9bd5" stroke="#1d7cb0" stroke-width="0.5"/>
<circle cx="453.80" cy="297.70" r="2.05" fill="#2a9bd5" stroke="#1d7cb0" stroke-width="0.5"/>
<circle cx="458.10" cy="313.50" r="2.05" fill="#2a9bd5" stroke="#1d7cb0" stroke-width="0.5"/>
<rect x="460.50" y="317.20" width="4.0" height="4.0" fill="#2a9bd5" stroke="#1d7cb0" stroke-width="0.5"/>
<circle cx="453.80" cy="323.50" r="2.05" fill="#2a9bd5" stroke="#1d7cb0" stroke-width="0.5"/>
<circle cx="458.10" cy="336.50" r="2.05" fill="#2a9bd5" stroke="#1d7cb0" stroke-width="0.5"/>
<circle cx="458.10" cy="351.00" r="2.05" fill="#2a9bd5" stroke="#1d7cb0" stroke-width="0.5"/>
<circle cx="453.80" cy="355.80" r="2.05" fill="#2a9bd5" stroke="#1d7cb0" stroke-width="0.5"/>
<circle cx="462.50" cy="358.10" r="2.05" fill="#2a9bd5" stroke="#1d7cb0" stroke-width="0.5"/>
<circle cx="453.80" cy="360.60" r="2.05" fill="#2a9bd5" stroke="#1d7cb0" stroke-width="0.5"/>
<circle cx="483.10" cy="345.60" r="2.05" fill="#c4123a" stroke="#7a0a22" stroke-width="0.7"/>
<circle cx="492.10" cy="346.20" r="2.05" fill="#c4123a" stroke="#7a0a22" stroke-width="0.7"/>
<circle cx="487.50" cy="351.30" r="2.05" fill="#c4123a" stroke="#7a0a22" stroke-width="0.7"/>
<text x="7.90" y="423.50" font-size="12.3" text-anchor="start" font-weight="bold" fill="#000" stroke="#000" stroke-width="0.5">G</text>
<line x1="53.10" y1="432.80" x2="53.10" y2="564.20" stroke="#1e1e1e" stroke-width="1.4"/>
<line x1="49.90" y1="435.80" x2="53.10" y2="435.80" stroke="#1e1e1e" stroke-width="1.4"/>
<text x="46.50" y="438.55" font-size="9" text-anchor="end" font-weight="normal" fill="#1a1a1a" stroke="#111" stroke-width="0.2">20</text>
<line x1="49.90" y1="467.90" x2="53.10" y2="467.90" stroke="#1e1e1e" stroke-width="1.4"/>
<text x="46.50" y="470.65" font-size="9" text-anchor="end" font-weight="normal" fill="#1a1a1a" stroke="#111" stroke-width="0.2">15</text>
<line x1="49.90" y1="500.00" x2="53.10" y2="500.00" stroke="#1e1e1e" stroke-width="1.4"/>
<text x="46.50" y="502.75" font-size="9" text-anchor="end" font-weight="normal" fill="#1a1a1a" stroke="#111" stroke-width="0.2">10</text>
<line x1="49.90" y1="532.10" x2="53.10" y2="532.10" stroke="#1e1e1e" stroke-width="1.4"/>
<text x="46.50" y="534.85" font-size="9" text-anchor="end" font-weight="normal" fill="#1a1a1a" stroke="#111" stroke-width="0.2">5</text>
<line x1="49.90" y1="564.20" x2="53.10" y2="564.20" stroke="#1e1e1e" stroke-width="1.4"/>
<text x="46.50" y="566.95" font-size="9" text-anchor="end" font-weight="normal" fill="#1a1a1a" stroke="#111" stroke-width="0.2">0</text>
<line x1="49.90" y1="564.20" x2="161.00" y2="564.20" stroke="#1e1e1e" stroke-width="1.4"/>
<line x1="77.80" y1="564.20" x2="77.80" y2="567.40" stroke="#1e1e1e" stroke-width="1.4"/>
<text x="77.30" y="574.70" font-size="8.7" text-anchor="end" fill="#111" stroke="#111" stroke-width="0.25" transform="rotate(-45 77.30 574.70)">HC</text>
<line x1="106.90" y1="564.20" x2="106.90" y2="567.40" stroke="#1e1e1e" stroke-width="1.4"/>
<text x="106.40" y="574.70" font-size="8.7" text-anchor="end" fill="#111" stroke="#111" stroke-width="0.25" transform="rotate(-45 106.40 574.70)">PIEZO1</text>
<line x1="136.30" y1="564.20" x2="136.30" y2="567.40" stroke="#1e1e1e" stroke-width="1.4"/>
<text x="135.80" y="574.70" font-size="8.7" text-anchor="end" fill="#111" stroke="#111" stroke-width="0.25" transform="rotate(-45 135.80 574.70)">KCNN4</text>
<text x="29.60" y="501.00" font-size="10" font-weight="normal" text-anchor="middle" stroke="#1a1a1a" stroke-width="0.35" fill="#1a1a1a" textLength="57.6" lengthAdjust="spacingAndGlyphs" transform="rotate(-90 29.60 501.00)">Stomatocytes (%)</text>
<line x1="77.50" y1="548.30" x2="77.50" y2="561.30" stroke="#555555" stroke-width="1.2"/>
<line x1="71.30" y1="548.30" x2="83.70" y2="548.30" stroke="#555555" stroke-width="1.3"/>
<line x1="71.30" y1="561.30" x2="83.70" y2="561.30" stroke="#555555" stroke-width="1.3"/>
<line x1="106.90" y1="546.70" x2="106.90" y2="562.00" stroke="#54464c" stroke-width="1.2"/>
<line x1="100.70" y1="546.70" x2="113.10" y2="546.70" stroke="#54464c" stroke-width="1.3"/>
<line x1="100.70" y1="562.00" x2="113.10" y2="562.00" stroke="#54464c" stroke-width="1.3"/>
<line x1="136.30" y1="528.50" x2="136.30" y2="556.90" stroke="#504849" stroke-width="1.2"/>
<line x1="130.10" y1="528.50" x2="142.50" y2="528.50" stroke="#504849" stroke-width="1.3"/>
<line x1="130.10" y1="556.90" x2="142.50" y2="556.90" stroke="#504849" stroke-width="1.3"/>
<line x1="65.90" y1="556.30" x2="89.10" y2="556.30" stroke="#262024" stroke-width="1.4"/>
<line x1="95.30" y1="558.50" x2="118.50" y2="558.50" stroke="#262024" stroke-width="1.4"/>
<line x1="124.70" y1="530.60" x2="147.90" y2="530.60" stroke="#262024" stroke-width="1.4"/>
<circle cx="77.50" cy="448.80" r="2.15" fill="#b8b8b8"/>
<circle cx="77.50" cy="544.00" r="2.15" fill="#b8b8b8"/>
<circle cx="67.50" cy="552.70" r="2.15" fill="#b8b8b8"/>
<circle cx="87.70" cy="553.10" r="2.15" fill="#b8b8b8"/>
<circle cx="67.50" cy="556.90" r="2.15" fill="#b8b8b8"/>
<circle cx="81.00" cy="556.30" r="2.15" fill="#b8b8b8"/>
<circle cx="87.70" cy="559.80" r="2.15" fill="#b8b8b8"/>
<circle cx="67.50" cy="563.70" r="2.15" fill="#b8b8b8"/>
<circle cx="81.00" cy="562.70" r="2.15" fill="#b8b8b8"/>
<circle cx="74.00" cy="560.00" r="2.15" fill="#b8b8b8"/>
<rect x="104.90" y="516.10" width="4.0" height="4.0" fill="#2a9bd5" stroke="#1d7cb0" stroke-width="0.5"/>
<circle cx="106.90" cy="543.50" r="2.05" fill="#2a9bd5" stroke="#1d7cb0" stroke-width="0.5"/>
<circle cx="102.10" cy="547.70" r="2.05" fill="#2a9bd5" stroke="#1d7cb0" stroke-width="0.5"/>
<circle cx="106.90" cy="551.70" r="2.05" fill="#2a9bd5" stroke="#1d7cb0" stroke-width="0.5"/>
<rect x="94.90" y="558.80" width="4.0" height="4.0" fill="#2a9bd5" stroke="#1d7cb0" stroke-width="0.5"/>
<rect x="100.10" y="557.80" width="4.0" height="4.0" fill="#2a9bd5" stroke="#1d7cb0" stroke-width="0.5"/>
<circle cx="106.90" cy="560.80" r="2.05" fill="#2a9bd5" stroke="#1d7cb0" stroke-width="0.5"/>
<circle cx="111.70" cy="559.80" r="2.05" fill="#2a9bd5" stroke="#1d7cb0" stroke-width="0.5"/>
<circle cx="116.90" cy="556.90" r="2.05" fill="#2a9bd5" stroke="#1d7cb0" stroke-width="0.5"/>
<circle cx="116.90" cy="562.70" r="2.05" fill="#2a9bd5" stroke="#1d7cb0" stroke-width="0.5"/>
<circle cx="131.90" cy="528.50" r="2.05" fill="#c4123a" stroke="#7a0a22" stroke-width="0.7"/>
<circle cx="140.60" cy="531.00" r="2.05" fill="#c4123a" stroke="#7a0a22" stroke-width="0.7"/>
<circle cx="136.30" cy="556.90" r="2.05" fill="#c4123a" stroke="#7a0a22" stroke-width="0.7"/>
<text x="178.60" y="423.50" font-size="12.3" text-anchor="start" font-weight="bold" fill="#000" stroke="#000" stroke-width="0.5">H</text>
<line x1="229.70" y1="432.80" x2="229.70" y2="564.20" stroke="#1e1e1e" stroke-width="1.4"/>
<line x1="226.50" y1="435.80" x2="229.70" y2="435.80" stroke="#1e1e1e" stroke-width="1.4"/>
<text x="223.10" y="438.55" font-size="9" text-anchor="end" font-weight="normal" fill="#1a1a1a" stroke="#111" stroke-width="0.2">800</text>
<line x1="226.50" y1="467.90" x2="229.70" y2="467.90" stroke="#1e1e1e" stroke-width="1.4"/>
<text x="223.10" y="470.65" font-size="9" text-anchor="end" font-weight="normal" fill="#1a1a1a" stroke="#111" stroke-width="0.2">600</text>
<line x1="226.50" y1="500.00" x2="229.70" y2="500.00" stroke="#1e1e1e" stroke-width="1.4"/>
<text x="223.10" y="502.75" font-size="9" text-anchor="end" font-weight="normal" fill="#1a1a1a" stroke="#111" stroke-width="0.2">400</text>
<line x1="226.50" y1="532.10" x2="229.70" y2="532.10" stroke="#1e1e1e" stroke-width="1.4"/>
<text x="223.10" y="534.85" font-size="9" text-anchor="end" font-weight="normal" fill="#1a1a1a" stroke="#111" stroke-width="0.2">200</text>
<line x1="226.50" y1="564.20" x2="229.70" y2="564.20" stroke="#1e1e1e" stroke-width="1.4"/>
<text x="223.10" y="566.95" font-size="9" text-anchor="end" font-weight="normal" fill="#1a1a1a" stroke="#111" stroke-width="0.2">0</text>
<line x1="226.50" y1="564.20" x2="336.80" y2="564.20" stroke="#1e1e1e" stroke-width="1.4"/>
<line x1="253.90" y1="564.20" x2="253.90" y2="567.40" stroke="#1e1e1e" stroke-width="1.4"/>
<text x="253.40" y="574.70" font-size="8.7" text-anchor="end" fill="#111" stroke="#111" stroke-width="0.25" transform="rotate(-45 253.40 574.70)">HC</text>
<line x1="283.10" y1="564.20" x2="283.10" y2="567.40" stroke="#1e1e1e" stroke-width="1.4"/>
<text x="282.60" y="574.70" font-size="8.7" text-anchor="end" fill="#111" stroke="#111" stroke-width="0.25" transform="rotate(-45 282.60 574.70)">PIEZO1</text>
<line x1="312.80" y1="564.20" x2="312.80" y2="567.40" stroke="#1e1e1e" stroke-width="1.4"/>
<text x="312.30" y="574.70" font-size="8.7" text-anchor="end" fill="#111" stroke="#111" stroke-width="0.25" transform="rotate(-45 312.30 574.70)">KCNN4</text>
<text x="200.60" y="500.40" font-size="10" font-weight="normal" text-anchor="middle" stroke="#1a1a1a" stroke-width="0.35" fill="#1a1a1a" textLength="49" lengthAdjust="spacingAndGlyphs" transform="rotate(-90 200.60 500.40)">Ferritin (μg/L)</text>
<polyline points="253.8,541.7 253.8,448.8 312.6,448.8 312.6,455.2" fill="none" stroke="#333" stroke-width="1.2"/>
<circle cx="283.20" cy="444.00" r="1.05" fill="#151515"/>
<line x1="253.70" y1="550.40" x2="253.70" y2="561.00" stroke="#555555" stroke-width="1.2"/>
<line x1="247.50" y1="550.40" x2="259.90" y2="550.40" stroke="#555555" stroke-width="1.3"/>
<line x1="247.50" y1="561.00" x2="259.90" y2="561.00" stroke="#555555" stroke-width="1.3"/>
<line x1="283.10" y1="522.50" x2="283.10" y2="551.90" stroke="#54464c" stroke-width="1.2"/>
<line x1="276.90" y1="522.50" x2="289.30" y2="522.50" stroke="#54464c" stroke-width="1.3"/>
<line x1="276.90" y1="551.90" x2="289.30" y2="551.90" stroke="#54464c" stroke-width="1.3"/>
<line x1="312.50" y1="461.50" x2="312.50" y2="514.80" stroke="#504849" stroke-width="1.2"/>
<line x1="306.30" y1="461.50" x2="318.70" y2="461.50" stroke="#504849" stroke-width="1.3"/>
<line x1="306.30" y1="514.80" x2="318.70" y2="514.80" stroke="#504849" stroke-width="1.3"/>
<line x1="242.10" y1="561.00" x2="265.30" y2="561.00" stroke="#262024" stroke-width="1.4"/>
<line x1="271.50" y1="540.40" x2="294.70" y2="540.40" stroke="#262024" stroke-width="1.4"/>
<line x1="300.90" y1="471.90" x2="324.10" y2="471.90" stroke="#262024" stroke-width="1.4"/>
<circle cx="253.70" cy="548.10" r="2.15" fill="#b8b8b8"/>
<circle cx="243.70" cy="561.00" r="2.15" fill="#b8b8b8"/>
<circle cx="253.70" cy="561.00" r="2.15" fill="#b8b8b8"/>
<circle cx="263.80" cy="561.00" r="2.15" fill="#b8b8b8"/>
<circle cx="253.70" cy="553.00" r="2.15" fill="#b8b8b8"/>
<rect x="281.10" y="467.20" width="4.0" height="4.0" fill="#2a9bd5" stroke="#1d7cb0" stroke-width="0.5"/>
<circle cx="283.10" cy="511.00" r="2.05" fill="#2a9bd5" stroke="#1d7cb0" stroke-width="0.5"/>
<circle cx="283.10" cy="520.60" r="2.05" fill="#2a9bd5" stroke="#1d7cb0" stroke-width="0.5"/>
<circle cx="283.10" cy="527.30" r="2.05" fill="#2a9bd5" stroke="#1d7cb0" stroke-width="0.5"/>
<rect x="276.80" y="534.50" width="4.0" height="4.0" fill="#2a9bd5" stroke="#1d7cb0" stroke-width="0.5"/>
<circle cx="287.90" cy="535.60" r="2.05" fill="#2a9bd5" stroke="#1d7cb0" stroke-width="0.5"/>
<circle cx="287.90" cy="543.70" r="2.05" fill="#2a9bd5" stroke="#1d7cb0" stroke-width="0.5"/>
<circle cx="278.80" cy="546.50" r="2.05" fill="#2a9bd5" stroke="#1d7cb0" stroke-width="0.5"/>
<circle cx="287.90" cy="548.50" r="2.05" fill="#2a9bd5" stroke="#1d7cb0" stroke-width="0.5"/>
<circle cx="278.80" cy="552.70" r="2.05" fill="#2a9bd5" stroke="#1d7cb0" stroke-width="0.5"/>
<circle cx="278.80" cy="561.90" r="2.05" fill="#2a9bd5" stroke="#1d7cb0" stroke-width="0.5"/>
<circle cx="287.90" cy="561.50" r="2.05" fill="#2a9bd5" stroke="#1d7cb0" stroke-width="0.5"/>
<circle cx="312.50" cy="461.50" r="2.05" fill="#c4123a" stroke="#7a0a22" stroke-width="0.7"/>
<circle cx="312.50" cy="471.90" r="2.05" fill="#c4123a" stroke="#7a0a22" stroke-width="0.7"/>
<circle cx="312.50" cy="514.80" r="2.05" fill="#c4123a" stroke="#7a0a22" stroke-width="0.7"/>
<text x="354.90" y="423.50" font-size="12.3" text-anchor="start" font-weight="bold" fill="#000" stroke="#000" stroke-width="0.5">I</text>
<line x1="404.70" y1="432.90" x2="404.70" y2="564.10" stroke="#1e1e1e" stroke-width="1.4"/>
<line x1="401.50" y1="435.90" x2="404.70" y2="435.90" stroke="#1e1e1e" stroke-width="1.4"/>
<text x="398.10" y="438.65" font-size="9" text-anchor="end" font-weight="normal" fill="#1a1a1a" stroke="#111" stroke-width="0.2">1.0</text>
<line x1="401.50" y1="461.50" x2="404.70" y2="461.50" stroke="#1e1e1e" stroke-width="1.4"/>
<text x="398.10" y="464.25" font-size="9" text-anchor="end" font-weight="normal" fill="#1a1a1a" stroke="#111" stroke-width="0.2">0.8</text>
<line x1="401.50" y1="487.10" x2="404.70" y2="487.10" stroke="#1e1e1e" stroke-width="1.4"/>
<text x="398.10" y="489.85" font-size="9" text-anchor="end" font-weight="normal" fill="#1a1a1a" stroke="#111" stroke-width="0.2">0.6</text>
<line x1="401.50" y1="512.70" x2="404.70" y2="512.70" stroke="#1e1e1e" stroke-width="1.4"/>
<text x="398.10" y="515.45" font-size="9" text-anchor="end" font-weight="normal" fill="#1a1a1a" stroke="#111" stroke-width="0.2">0.4</text>
<line x1="401.50" y1="538.30" x2="404.70" y2="538.30" stroke="#1e1e1e" stroke-width="1.4"/>
<text x="398.10" y="541.05" font-size="9" text-anchor="end" font-weight="normal" fill="#1a1a1a" stroke="#111" stroke-width="0.2">0.2</text>
<line x1="401.50" y1="564.00" x2="404.70" y2="564.00" stroke="#1e1e1e" stroke-width="1.4"/>
<text x="398.10" y="566.75" font-size="9" text-anchor="end" font-weight="normal" fill="#1a1a1a" stroke="#111" stroke-width="0.2">0.0</text>
<line x1="401.50" y1="564.10" x2="511.20" y2="564.10" stroke="#1e1e1e" stroke-width="1.4"/>
<line x1="429.20" y1="564.10" x2="429.20" y2="567.30" stroke="#1e1e1e" stroke-width="1.4"/>
<text x="428.70" y="574.60" font-size="8.7" text-anchor="end" fill="#111" stroke="#111" stroke-width="0.25" transform="rotate(-45 428.70 574.60)">HC</text>
<line x1="458.10" y1="564.10" x2="458.10" y2="567.30" stroke="#1e1e1e" stroke-width="1.4"/>
<text x="457.60" y="574.60" font-size="8.7" text-anchor="end" fill="#111" stroke="#111" stroke-width="0.25" transform="rotate(-45 457.60 574.60)">PIEZO1</text>
<line x1="487.40" y1="564.10" x2="487.40" y2="567.30" stroke="#1e1e1e" stroke-width="1.4"/>
<text x="486.90" y="574.60" font-size="8.7" text-anchor="end" fill="#111" stroke="#111" stroke-width="0.25" transform="rotate(-45 486.90 574.60)">KCNN4</text>
<text x="378.60" y="500.35" font-size="10" font-weight="normal" text-anchor="middle" stroke="#1a1a1a" stroke-width="0.35" fill="#1a1a1a" textLength="31.9" lengthAdjust="spacingAndGlyphs" transform="rotate(-90 378.60 500.35)">TSAT (%)</text>
<line x1="428.70" y1="519.20" x2="428.70" y2="536.00" stroke="#555555" stroke-width="1.2"/>
<line x1="422.50" y1="519.20" x2="434.90" y2="519.20" stroke="#555555" stroke-width="1.3"/>
<line x1="422.50" y1="536.00" x2="434.90" y2="536.00" stroke="#555555" stroke-width="1.3"/>
<line x1="458.10" y1="477.30" x2="458.10" y2="532.70" stroke="#54464c" stroke-width="1.2"/>
<line x1="451.90" y1="477.30" x2="464.30" y2="477.30" stroke="#54464c" stroke-width="1.3"/>
<line x1="451.90" y1="532.70" x2="464.30" y2="532.70" stroke="#54464c" stroke-width="1.3"/>
<line x1="487.50" y1="451.30" x2="487.50" y2="512.90" stroke="#504849" stroke-width="1.2"/>
<line x1="481.30" y1="451.30" x2="493.70" y2="451.30" stroke="#504849" stroke-width="1.3"/>
<line x1="481.30" y1="512.90" x2="493.70" y2="512.90" stroke="#504849" stroke-width="1.3"/>
<line x1="417.10" y1="528.30" x2="440.30" y2="528.30" stroke="#262024" stroke-width="1.4"/>
<line x1="446.50" y1="523.80" x2="469.70" y2="523.80" stroke="#262024" stroke-width="1.4"/>
<line x1="475.90" y1="465.40" x2="499.10" y2="465.40" stroke="#262024" stroke-width="1.4"/>
<circle cx="428.70" cy="516.70" r="2.15" fill="#b8b8b8"/>
<circle cx="428.70" cy="522.10" r="2.15" fill="#b8b8b8"/>
<circle cx="424.40" cy="528.70" r="2.15" fill="#b8b8b8"/>
<circle cx="433.10" cy="529.20" r="2.15" fill="#b8b8b8"/>
<circle cx="428.70" cy="542.30" r="2.15" fill="#b8b8b8"/>
<rect x="456.10" y="463.20" width="4.0" height="4.0" fill="#2a9bd5" stroke="#1d7cb0" stroke-width="0.5"/>
<circle cx="453.30" cy="473.10" r="2.05" fill="#2a9bd5" stroke="#1d7cb0" stroke-width="0.5"/>
<circle cx="463.30" cy="473.10" r="2.05" fill="#2a9bd5" stroke="#1d7cb0" stroke-width="0.5"/>
<circle cx="458.10" cy="489.80" r="2.05" fill="#2a9bd5" stroke="#1d7cb0" stroke-width="0.5"/>
<circle cx="453.30" cy="519.20" r="2.05" fill="#2a9bd5" stroke="#1d7cb0" stroke-width="0.5"/>
<circle cx="463.30" cy="518.10" r="2.05" fill="#2a9bd5" stroke="#1d7cb0" stroke-width="0.5"/>
<circle cx="448.10" cy="530.60" r="2.05" fill="#2a9bd5" stroke="#1d7cb0" stroke-width="0.5"/>
<rect x="456.10" y="527.20" width="4.0" height="4.0" fill="#2a9bd5" stroke="#1d7cb0" stroke-width="0.5"/>
<circle cx="468.30" cy="528.30" r="2.05" fill="#2a9bd5" stroke="#1d7cb0" stroke-width="0.5"/>
<circle cx="468.30" cy="533.50" r="2.05" fill="#2a9bd5" stroke="#1d7cb0" stroke-width="0.5"/>
<circle cx="453.30" cy="556.50" r="2.05" fill="#2a9bd5" stroke="#1d7cb0" stroke-width="0.5"/>
<circle cx="463.30" cy="554.20" r="2.05" fill="#2a9bd5" stroke="#1d7cb0" stroke-width="0.5"/>
<circle cx="487.50" cy="451.30" r="2.05" fill="#c4123a" stroke="#7a0a22" stroke-width="0.7"/>
<circle cx="487.50" cy="465.40" r="2.05" fill="#c4123a" stroke="#7a0a22" stroke-width="0.7"/>
<circle cx="487.50" cy="512.90" r="2.05" fill="#c4123a" stroke="#7a0a22" stroke-width="0.7"/>
<svg x="137.8" y="633.7" width="134.2" height="101.2" viewBox="0 0 134.2 101.2" overflow="hidden">
<rect width="134.2" height="101.2" fill="#faf0f6"/>
<g filter="url(#bl2)">
<g transform="translate(4.1 7.6) rotate(172)">
<ellipse rx="4.84" ry="4.27" fill="#864266"/>
<ellipse rx="3.87" ry="3.42" fill="#b67290"/>
<ellipse cx="0.5" cy="-0.0" rx="2.05" ry="1.81" fill="#d6a0bb" filter="url(#bl)"/>
</g>
<g transform="translate(15.2 9.7) rotate(18)">
<ellipse rx="4.63" ry="4.08" fill="#8c466a"/>
<ellipse rx="3.70" ry="3.26" fill="#b06a8a"/>
<ellipse cx="-0.5" cy="0.5" rx="1.73" ry="1.53" fill="#dcaac2" filter="url(#bl)"/>
</g>
<g transform="translate(29.1 6.9) rotate(124)">
<ellipse rx="5.16" ry="4.59" fill="#80405f"/>
<ellipse rx="4.13" ry="3.67" fill="#aa6486"/>
<ellipse cx="-0.4" cy="0.3" rx="2.30" ry="2.05" fill="#dcaac2" filter="url(#bl)"/>
</g>
<g transform="translate(40.9 6.2) rotate(64)">
<ellipse rx="4.54" ry="4.19" fill="#80405f"/>
<ellipse rx="3.63" ry="3.35" fill="#aa6486"/>
<ellipse cx="0.1" cy="0.3" rx="2.02" ry="1.87" fill="#dcaac2" filter="url(#bl)"/>
</g>
<g transform="translate(53.4 4.2) rotate(133)">
<ellipse rx="4.77" ry="4.40" fill="#864266"/>
<ellipse rx="3.82" ry="3.52" fill="#b06a8a"/>
<ellipse cx="-0.5" cy="-0.2" rx="1.69" ry="1.56" fill="#d6a0bb" filter="url(#bl)"/>
</g>
<g transform="translate(63.1 6.9) rotate(109)">
<ellipse rx="4.74" ry="4.48" fill="#8c466a"/>
<ellipse rx="3.79" ry="3.58" fill="#b06a8a"/>
<ellipse cx="0.5" cy="-0.4" rx="1.91" ry="1.80" fill="#e2b4ca" filter="url(#bl)"/>
</g>
<g transform="translate(26.3 13.9) rotate(35)">
<ellipse rx="4.52" ry="4.23" fill="#864266"/>
<ellipse rx="3.62" ry="3.38" fill="#b06a8a"/>
<ellipse cx="-0.0" cy="0.2" rx="2.15" ry="2.01" fill="#d6a0bb" filter="url(#bl)"/>
</g>
<g transform="translate(36.0 15.3) rotate(22)">
<ellipse rx="4.83" ry="4.49" fill="#80405f"/>
<ellipse rx="3.87" ry="3.59" fill="#b06a8a"/>
<ellipse cx="-0.1" cy="0.1" rx="2.34" ry="2.17" fill="#e2b4ca" filter="url(#bl)"/>
</g>
<g transform="translate(45.0 16.0) rotate(83)">
<ellipse rx="4.75" ry="3.93" fill="#864266"/>
<ellipse rx="3.80" ry="3.15" fill="#b67290"/>
<ellipse cx="-0.5" cy="0.1" rx="2.37" ry="1.96" fill="#d6a0bb" filter="url(#bl)"/>
</g>
<g transform="translate(54.8 15.3) rotate(110)">
<ellipse rx="4.89" ry="4.33" fill="#8c466a"/>
<ellipse rx="3.91" ry="3.46" fill="#b67290"/>
<ellipse cx="0.0" cy="-0.5" rx="1.83" ry="1.62" fill="#dcaac2" filter="url(#bl)"/>
</g>
<g transform="translate(62.4 10.4) rotate(95)">
<ellipse rx="4.85" ry="4.13" fill="#80405f"/>
<ellipse rx="3.88" ry="3.31" fill="#b67290"/>
<ellipse cx="-0.3" cy="-0.2" rx="2.30" ry="1.96" fill="#dcaac2" filter="url(#bl)"/>
</g>
<g transform="translate(4.1 25.7) rotate(137)">
<ellipse rx="4.59" ry="4.20" fill="#8c466a"/>
<ellipse rx="3.67" ry="3.36" fill="#b67290"/>
<ellipse cx="0.2" cy="0.4" rx="1.65" ry="1.51" fill="#dcaac2" filter="url(#bl)"/>
</g>
<g transform="translate(17.9 21.5) rotate(76)">
<ellipse rx="5.04" ry="4.34" fill="#80405f"/>
<ellipse rx="4.03" ry="3.47" fill="#b67290"/>
<ellipse cx="-0.5" cy="-0.1" rx="2.16" ry="1.86" fill="#e2b4ca" filter="url(#bl)"/>
</g>
<g transform="translate(27.7 22.9) rotate(140)">
<ellipse rx="4.89" ry="4.32" fill="#864266"/>
<ellipse rx="3.91" ry="3.45" fill="#b67290"/>
<ellipse cx="-0.4" cy="0.2" rx="1.80" ry="1.59" fill="#dcaac2" filter="url(#bl)"/>
</g>
<g transform="translate(38.8 26.4) rotate(141)">
<ellipse rx="4.51" ry="4.23" fill="#80405f"/>
<ellipse rx="3.61" ry="3.38" fill="#b67290"/>
<ellipse cx="0.3" cy="0.0" rx="1.77" ry="1.65" fill="#d6a0bb" filter="url(#bl)"/>
</g>
<g transform="translate(52.0 24.3) rotate(80)">
<ellipse rx="4.79" ry="4.24" fill="#80405f"/>
<ellipse rx="3.83" ry="3.40" fill="#b06a8a"/>
<ellipse cx="-0.0" cy="0.0" rx="2.17" ry="1.93" fill="#dcaac2" filter="url(#bl)"/>
</g>
<g transform="translate(61.0 28.5) rotate(126)">
<ellipse rx="5.13" ry="4.68" fill="#8c466a"/>
<ellipse rx="4.10" ry="3.74" fill="#b67290"/>
<ellipse cx="0.4" cy="0.3" rx="2.22" ry="2.03" fill="#dcaac2" filter="url(#bl)"/>
</g>
<g transform="translate(2.0 32.6) rotate(71)">
<ellipse rx="5.03" ry="4.68" fill="#864266"/>
<ellipse rx="4.02" ry="3.75" fill="#aa6486"/>
<ellipse cx="-0.2" cy="-0.4" rx="1.92" ry="1.79" fill="#dcaac2" filter="url(#bl)"/>
</g>
<g transform="translate(22.1 34.7) rotate(119)">
<ellipse rx="4.76" ry="4.62" fill="#864266"/>
<ellipse rx="3.80" ry="3.70" fill="#b67290"/>
<ellipse cx="0.5" cy="-0.1" rx="1.82" ry="1.77" fill="#e2b4ca" filter="url(#bl)"/>
</g>
<g transform="translate(31.8 30.6) rotate(150)">
<ellipse rx="4.67" ry="4.28" fill="#8c466a"/>
<ellipse rx="3.74" ry="3.43" fill="#b06a8a"/>
<ellipse cx="-0.3" cy="-0.2" rx="1.87" ry="1.72" fill="#e2b4ca" filter="url(#bl)"/>
</g>
<g transform="translate(47.1 31.9) rotate(61)">
<ellipse rx="5.11" ry="4.71" fill="#80405f"/>
<ellipse rx="4.09" ry="3.77" fill="#aa6486"/>
<ellipse cx="-0.2" cy="0.5" rx="2.19" ry="2.02" fill="#dcaac2" filter="url(#bl)"/>
</g>
<g transform="translate(56.1 31.2) rotate(15)">
<ellipse rx="4.54" ry="4.37" fill="#864266"/>
<ellipse rx="3.63" ry="3.50" fill="#b06a8a"/>
<ellipse cx="0.3" cy="0.3" rx="2.11" ry="2.03" fill="#dcaac2" filter="url(#bl)"/>
</g>
<g transform="translate(14.5 34.0) rotate(27)">
<ellipse rx="5.27" ry="4.58" fill="#80405f"/>
<ellipse rx="4.22" ry="3.66" fill="#aa6486"/>
<ellipse cx="-0.4" cy="0.2" rx="1.92" ry="1.66" fill="#d6a0bb" filter="url(#bl)"/>
</g>
<g transform="translate(6.8 38.2) rotate(169)">
<ellipse rx="4.83" ry="4.44" fill="#8c466a"/>
<ellipse rx="3.87" ry="3.55" fill="#b06a8a"/>
<ellipse cx="-0.4" cy="0.4" rx="2.31" ry="2.12" fill="#d6a0bb" filter="url(#bl)"/>
</g>
<g transform="translate(18.6 36.1) rotate(179)">
<ellipse rx="4.66" ry="4.43" fill="#8c466a"/>
<ellipse rx="3.73" ry="3.54" fill="#b06a8a"/>
<ellipse cx="0.2" cy="0.4" rx="1.66" ry="1.58" fill="#d6a0bb" filter="url(#bl)"/>
</g>
<g transform="translate(31.8 39.6) rotate(33)">
<ellipse rx="4.87" ry="4.26" fill="#864266"/>
<ellipse rx="3.90" ry="3.41" fill="#aa6486"/>
<ellipse cx="-0.1" cy="0.2" rx="1.86" ry="1.62" fill="#dcaac2" filter="url(#bl)"/>
</g>
<g transform="translate(37.4 43.7) rotate(179)">
<ellipse rx="4.57" ry="4.02" fill="#8c466a"/>
<ellipse rx="3.66" ry="3.21" fill="#aa6486"/>
<ellipse cx="0.0" cy="-0.3" rx="2.27" ry="2.00" fill="#dcaac2" filter="url(#bl)"/>
</g>
<g transform="translate(45.0 41.0) rotate(147)">
<ellipse rx="5.02" ry="4.52" fill="#8c466a"/>
<ellipse rx="4.01" ry="3.61" fill="#b06a8a"/>
<ellipse cx="0.0" cy="0.2" rx="2.05" ry="1.85" fill="#e2b4ca" filter="url(#bl)"/>
</g>
<g transform="translate(55.5 41.0) rotate(150)">
<ellipse rx="4.81" ry="4.29" fill="#864266"/>
<ellipse rx="3.85" ry="3.44" fill="#aa6486"/>
<ellipse cx="-0.4" cy="-0.4" rx="1.93" ry="1.73" fill="#dcaac2" filter="url(#bl)"/>
</g>
<g transform="translate(3.4 46.5) rotate(158)">
<ellipse rx="4.89" ry="4.16" fill="#864266"/>
<ellipse rx="3.91" ry="3.33" fill="#b67290"/>
<ellipse cx="0.0" cy="0.5" rx="1.99" ry="1.69" fill="#e2b4ca" filter="url(#bl)"/>
</g>
<g transform="translate(13.8 47.2) rotate(53)">
<ellipse rx="4.94" ry="4.24" fill="#80405f"/>
<ellipse rx="3.95" ry="3.39" fill="#b06a8a"/>
<ellipse cx="0.5" cy="0.5" rx="1.92" ry="1.65" fill="#e2b4ca" filter="url(#bl)"/>
</g>
<g transform="translate(23.5 45.1) rotate(6)">
<ellipse rx="4.99" ry="4.16" fill="#80405f"/>
<ellipse rx="3.99" ry="3.32" fill="#aa6486"/>
<ellipse cx="-0.4" cy="-0.2" rx="2.00" ry="1.66" fill="#dcaac2" filter="url(#bl)"/>
</g>
<g transform="translate(45.7 49.3) rotate(91)">
<ellipse rx="4.68" ry="4.26" fill="#80405f"/>
<ellipse rx="3.74" ry="3.41" fill="#b06a8a"/>
<ellipse cx="-0.5" cy="-0.5" rx="1.92" ry="1.75" fill="#dcaac2" filter="url(#bl)"/>
</g>
<g transform="translate(58.9 52.1) rotate(15)">
<ellipse rx="4.86" ry="4.35" fill="#8c466a"/>
<ellipse rx="3.88" ry="3.48" fill="#b67290"/>
<ellipse cx="0.3" cy="0.1" rx="2.35" ry="2.11" fill="#dcaac2" filter="url(#bl)"/>
</g>
<g transform="translate(14.5 51.4) rotate(27)">
<ellipse rx="4.75" ry="4.24" fill="#8c466a"/>
<ellipse rx="3.80" ry="3.39" fill="#b67290"/>
<ellipse cx="0.4" cy="0.1" rx="2.26" ry="2.02" fill="#d6a0bb" filter="url(#bl)"/>
</g>
<g transform="translate(27.7 52.8) rotate(25)">
<ellipse rx="4.74" ry="4.24" fill="#80405f"/>
<ellipse rx="3.79" ry="3.39" fill="#b67290"/>
<ellipse cx="0.3" cy="0.1" rx="2.23" ry="1.99" fill="#e2b4ca" filter="url(#bl)"/>
</g>
<g transform="translate(36.0 56.2) rotate(116)">
<ellipse rx="4.78" ry="4.20" fill="#80405f"/>
<ellipse rx="3.82" ry="3.36" fill="#b67290"/>
<ellipse cx="-0.1" cy="-0.0" rx="2.36" ry="2.07" fill="#e2b4ca" filter="url(#bl)"/>
</g>
<g transform="translate(58.9 56.2) rotate(113)">
<ellipse rx="4.93" ry="4.33" fill="#864266"/>
<ellipse rx="3.94" ry="3.46" fill="#b67290"/>
<ellipse cx="0.2" cy="0.0" rx="2.31" ry="2.03" fill="#dcaac2" filter="url(#bl)"/>
</g>
<g transform="translate(4.1 57.6) rotate(95)">
<ellipse rx="4.90" ry="4.27" fill="#80405f"/>
<ellipse rx="3.92" ry="3.42" fill="#b06a8a"/>
<ellipse cx="-0.3" cy="0.3" rx="2.34" ry="2.04" fill="#e2b4ca" filter="url(#bl)"/>
</g>
<g transform="translate(20.0 59.7) rotate(176)">
<ellipse rx="4.92" ry="4.35" fill="#864266"/>
<ellipse rx="3.94" ry="3.48" fill="#b67290"/>
<ellipse cx="0.3" cy="0.1" rx="2.23" ry="1.97" fill="#e2b4ca" filter="url(#bl)"/>
</g>
<g transform="translate(29.8 61.8) rotate(108)">
<ellipse rx="4.78" ry="4.43" fill="#80405f"/>
<ellipse rx="3.82" ry="3.55" fill="#b06a8a"/>
<ellipse cx="-0.4" cy="-0.0" rx="2.12" ry="1.96" fill="#dcaac2" filter="url(#bl)"/>
</g>
<g transform="translate(40.2 64.6) rotate(18)">
<ellipse rx="4.65" ry="4.27" fill="#8c466a"/>
<ellipse rx="3.72" ry="3.42" fill="#aa6486"/>
<ellipse cx="-0.0" cy="0.3" rx="1.83" ry="1.68" fill="#e2b4ca" filter="url(#bl)"/>
</g>
<g transform="translate(51.3 61.1) rotate(176)">
<ellipse rx="5.25" ry="4.23" fill="#80405f"/>
<ellipse rx="4.20" ry="3.39" fill="#b06a8a"/>
<ellipse cx="0.5" cy="-0.1" rx="2.48" ry="2.00" fill="#d6a0bb" filter="url(#bl)"/>
</g>
<g transform="translate(65.2 61.8) rotate(165)">
<ellipse rx="5.19" ry="4.22" fill="#8c466a"/>
<ellipse rx="4.15" ry="3.38" fill="#aa6486"/>
<ellipse cx="-0.2" cy="-0.1" rx="2.40" ry="1.95" fill="#dcaac2" filter="url(#bl)"/>
</g>
<g transform="translate(4.1 63.9) rotate(50)">
<ellipse rx="4.57" ry="4.18" fill="#80405f"/>
<ellipse rx="3.66" ry="3.34" fill="#b67290"/>
<ellipse cx="-0.1" cy="-0.3" rx="2.20" ry="2.01" fill="#e2b4ca" filter="url(#bl)"/>
</g>
<g transform="translate(12.4 66.7) rotate(73)">
<ellipse rx="5.03" ry="4.36" fill="#8c466a"/>
<ellipse rx="4.02" ry="3.49" fill="#b67290"/>
<ellipse cx="-0.2" cy="-0.2" rx="1.85" ry="1.60" fill="#d6a0bb" filter="url(#bl)"/>
</g>
<g transform="translate(22.1 67.4) rotate(169)">
<ellipse rx="4.75" ry="4.11" fill="#8c466a"/>
<ellipse rx="3.80" ry="3.29" fill="#aa6486"/>
<ellipse cx="-0.4" cy="-0.1" rx="1.84" ry="1.59" fill="#dcaac2" filter="url(#bl)"/>
</g>
<g transform="translate(32.5 70.1) rotate(167)">
<ellipse rx="5.20" ry="4.75" fill="#80405f"/>
<ellipse rx="4.16" ry="3.80" fill="#b06a8a"/>
<ellipse cx="0.2" cy="0.1" rx="1.86" ry="1.70" fill="#d6a0bb" filter="url(#bl)"/>
</g>
<g transform="translate(50.6 67.4) rotate(79)">
<ellipse rx="4.92" ry="4.64" fill="#864266"/>
<ellipse rx="3.93" ry="3.71" fill="#b06a8a"/>
<ellipse cx="-0.5" cy="0.3" rx="2.04" ry="1.92" fill="#d6a0bb" filter="url(#bl)"/>
</g>
<g transform="translate(61.0 74.3) rotate(37)">
<ellipse rx="4.58" ry="4.51" fill="#8c466a"/>
<ellipse rx="3.66" ry="3.61" fill="#b67290"/>
<ellipse cx="-0.4" cy="0.4" rx="2.03" ry="1.99" fill="#e2b4ca" filter="url(#bl)"/>
</g>
<g transform="translate(3.4 75.7) rotate(23)">
<ellipse rx="5.12" ry="4.50" fill="#8c466a"/>
<ellipse rx="4.10" ry="3.60" fill="#b06a8a"/>
<ellipse cx="0.5" cy="-0.2" rx="2.36" ry="2.08" fill="#e2b4ca" filter="url(#bl)"/>
</g>
<g transform="translate(24.9 74.3) rotate(87)">
<ellipse rx="4.76" ry="3.99" fill="#80405f"/>
<ellipse rx="3.81" ry="3.19" fill="#b06a8a"/>
<ellipse cx="0.0" cy="0.3" rx="1.72" ry="1.44" fill="#d6a0bb" filter="url(#bl)"/>
</g>
<g transform="translate(37.4 76.4) rotate(163)">
<ellipse rx="5.07" ry="4.30" fill="#80405f"/>
<ellipse rx="4.05" ry="3.44" fill="#b06a8a"/>
<ellipse cx="-0.4" cy="-0.2" rx="1.92" ry="1.63" fill="#d6a0bb" filter="url(#bl)"/>
</g>
<g transform="translate(49.9 77.1) rotate(66)">
<ellipse rx="5.17" ry="4.32" fill="#864266"/>
<ellipse rx="4.13" ry="3.46" fill="#aa6486"/>
<ellipse cx="-0.1" cy="0.2" rx="2.48" ry="2.08" fill="#dcaac2" filter="url(#bl)"/>
</g>
<g transform="translate(64.5 77.1) rotate(61)">
<ellipse rx="4.50" ry="4.09" fill="#864266"/>
<ellipse rx="3.60" ry="3.27" fill="#aa6486"/>
<ellipse cx="0.0" cy="0.1" rx="1.66" ry="1.51" fill="#d6a0bb" filter="url(#bl)"/>
</g>
<g transform="translate(13.1 82.6) rotate(161)">
<ellipse rx="4.82" ry="4.45" fill="#864266"/>
<ellipse rx="3.86" ry="3.56" fill="#b06a8a"/>
<ellipse cx="0.3" cy="0.5" rx="1.91" ry="1.76" fill="#d6a0bb" filter="url(#bl)"/>
</g>
<g transform="translate(22.1 81.2) rotate(128)">
<ellipse rx="4.82" ry="4.14" fill="#864266"/>
<ellipse rx="3.85" ry="3.31" fill="#b06a8a"/>
<ellipse cx="-0.1" cy="0.4" rx="1.69" ry="1.45" fill="#d6a0bb" filter="url(#bl)"/>
</g>
<g transform="translate(31.8 84.0) rotate(45)">
<ellipse rx="4.79" ry="4.25" fill="#80405f"/>
<ellipse rx="3.83" ry="3.40" fill="#aa6486"/>
<ellipse cx="0.4" cy="0.2" rx="2.16" ry="1.92" fill="#d6a0bb" filter="url(#bl)"/>
</g>
<g transform="translate(42.3 83.3) rotate(99)">
<ellipse rx="4.80" ry="4.66" fill="#80405f"/>
<ellipse rx="3.84" ry="3.73" fill="#aa6486"/>
<ellipse cx="0.1" cy="-0.2" rx="2.34" ry="2.27" fill="#dcaac2" filter="url(#bl)"/>
</g>
<g transform="translate(57.5 85.4) rotate(95)">
<ellipse rx="4.89" ry="4.55" fill="#864266"/>
<ellipse rx="3.91" ry="3.64" fill="#b67290"/>
<ellipse cx="0.4" cy="-0.3" rx="1.93" ry="1.80" fill="#d6a0bb" filter="url(#bl)"/>
</g>
<g transform="translate(4.8 90.3) rotate(0)">
<ellipse rx="5.10" ry="4.84" fill="#8c466a"/>
<ellipse rx="4.08" ry="3.87" fill="#b06a8a"/>
<ellipse cx="0.3" cy="-0.3" rx="2.03" ry="1.92" fill="#e2b4ca" filter="url(#bl)"/>
</g>
<g transform="translate(17.3 89.6) rotate(44)">
<ellipse rx="4.99" ry="4.40" fill="#80405f"/>
<ellipse rx="4.00" ry="3.52" fill="#b06a8a"/>
<ellipse cx="-0.0" cy="0.2" rx="1.76" ry="1.55" fill="#e2b4ca" filter="url(#bl)"/>
</g>
<g transform="translate(33.9 88.9) rotate(41)">
<ellipse rx="4.95" ry="4.39" fill="#8c466a"/>
<ellipse rx="3.96" ry="3.51" fill="#b06a8a"/>
<ellipse cx="0.2" cy="-0.1" rx="2.25" ry="1.99" fill="#d6a0bb" filter="url(#bl)"/>
</g>
<g transform="translate(48.5 88.9) rotate(143)">
<ellipse rx="5.04" ry="4.42" fill="#8c466a"/>
<ellipse rx="4.04" ry="3.53" fill="#b06a8a"/>
<ellipse cx="-0.2" cy="0.3" rx="2.50" ry="2.19" fill="#dcaac2" filter="url(#bl)"/>
</g>
<g transform="translate(60.3 88.2) rotate(48)">
<ellipse rx="5.11" ry="4.19" fill="#864266"/>
<ellipse rx="4.09" ry="3.35" fill="#aa6486"/>
<ellipse cx="0.4" cy="-0.0" rx="2.25" ry="1.85" fill="#dcaac2" filter="url(#bl)"/>
</g>
<g transform="translate(14.5 97.9) rotate(26)">
<ellipse rx="4.81" ry="4.19" fill="#80405f"/>
<ellipse rx="3.85" ry="3.35" fill="#b06a8a"/>
<ellipse cx="-0.4" cy="-0.4" rx="1.79" ry="1.56" fill="#e2b4ca" filter="url(#bl)"/>
</g>
<g transform="translate(25.6 96.5) rotate(159)">
<ellipse rx="5.17" ry="4.82" fill="#8c466a"/>
<ellipse rx="4.14" ry="3.85" fill="#aa6486"/>
<ellipse cx="-0.3" cy="0.4" rx="2.07" ry="1.92" fill="#e2b4ca" filter="url(#bl)"/>
</g>
<g transform="translate(39.5 97.2) rotate(56)">
<ellipse rx="5.23" ry="4.78" fill="#80405f"/>
<ellipse rx="4.18" ry="3.82" fill="#aa6486"/>
<ellipse cx="-0.4" cy="-0.4" rx="2.18" ry="1.99" fill="#dcaac2" filter="url(#bl)"/>
</g>
<g transform="translate(52.0 96.5) rotate(172)">
<ellipse rx="4.69" ry="4.62" fill="#864266"/>
<ellipse rx="3.76" ry="3.69" fill="#aa6486"/>
<ellipse cx="0.3" cy="0.3" rx="1.89" ry="1.86" fill="#d6a0bb" filter="url(#bl)"/>
</g>
<g transform="translate(62.4 96.5) rotate(127)">
<ellipse rx="4.82" ry="4.47" fill="#8c466a"/>
<ellipse rx="3.86" ry="3.58" fill="#b06a8a"/>
<ellipse cx="0.2" cy="-0.0" rx="1.92" ry="1.78" fill="#dcaac2" filter="url(#bl)"/>
</g>
<g transform="translate(4.1 99.3) rotate(146)">
<ellipse rx="4.77" ry="3.92" fill="#80405f"/>
<ellipse rx="3.82" ry="3.14" fill="#aa6486"/>
<ellipse cx="0.4" cy="-0.2" rx="1.71" ry="1.41" fill="#dcaac2" filter="url(#bl)"/>
</g>
<g transform="translate(67.6 3.5) rotate(61)">
<ellipse rx="4.88" ry="4.73" fill="#80405f"/>
<ellipse rx="3.90" ry="3.78" fill="#b06a8a"/>
<ellipse cx="0.2" cy="-0.2" rx="1.90" ry="1.84" fill="#e2b4ca" filter="url(#bl)"/>
</g>
<g transform="translate(75.2 5.5) rotate(130)">
<ellipse rx="5.00" ry="4.61" fill="#8c466a"/>
<ellipse rx="4.00" ry="3.69" fill="#aa6486"/>
<ellipse cx="0.3" cy="-0.4" rx="1.80" ry="1.66" fill="#dcaac2" filter="url(#bl)"/>
</g>
<g transform="translate(85.0 6.2) rotate(142)">
<ellipse rx="5.34" ry="4.79" fill="#80405f"/>
<ellipse rx="4.28" ry="3.83" fill="#aa6486"/>
<ellipse cx="-0.5" cy="0.4" rx="2.27" ry="2.03" fill="#d6a0bb" filter="url(#bl)"/>
</g>
<g transform="translate(96.8 5.5) rotate(109)">
<ellipse rx="4.97" ry="4.42" fill="#8c466a"/>
<ellipse rx="3.97" ry="3.53" fill="#b67290"/>
<ellipse cx="-0.4" cy="-0.3" rx="2.32" ry="2.06" fill="#dcaac2" filter="url(#bl)"/>
</g>
<g transform="translate(107.9 2.1) rotate(12)">
<ellipse rx="4.56" ry="4.30" fill="#864266"/>
<ellipse rx="3.65" ry="3.44" fill="#b06a8a"/>
<ellipse cx="0.4" cy="0.5" rx="2.27" ry="2.14" fill="#d6a0bb" filter="url(#bl)"/>
</g>
<g transform="translate(117.6 7.6) rotate(38)">
<ellipse rx="4.79" ry="4.59" fill="#8c466a"/>
<ellipse rx="3.83" ry="3.67" fill="#b67290"/>
<ellipse cx="-0.4" cy="-0.0" rx="1.80" ry="1.72" fill="#dcaac2" filter="url(#bl)"/>
</g>
<g transform="translate(130.1 4.9) rotate(97)">
<ellipse rx="5.10" ry="4.60" fill="#80405f"/>
<ellipse rx="4.08" ry="3.68" fill="#b06a8a"/>
<ellipse cx="-0.2" cy="-0.2" rx="2.01" ry="1.81" fill="#e2b4ca" filter="url(#bl)"/>
</g>
<g transform="translate(73.8 15.3) rotate(36)">
<ellipse rx="4.52" ry="4.01" fill="#8c466a"/>
<ellipse rx="3.62" ry="3.21" fill="#b67290"/>
<ellipse cx="0.1" cy="-0.2" rx="2.18" ry="1.94" fill="#d6a0bb" filter="url(#bl)"/>
</g>
<g transform="translate(82.9 17.4) rotate(91)">
<ellipse rx="4.74" ry="4.52" fill="#8c466a"/>
<ellipse rx="3.79" ry="3.62" fill="#aa6486"/>
<ellipse cx="-0.4" cy="-0.0" rx="2.36" ry="2.26" fill="#dcaac2" filter="url(#bl)"/>
</g>
<g transform="translate(91.2 15.3) rotate(7)">
<ellipse rx="4.62" ry="4.01" fill="#864266"/>
<ellipse rx="3.69" ry="3.21" fill="#aa6486"/>
<ellipse cx="0.1" cy="0.4" rx="2.29" ry="1.99" fill="#d6a0bb" filter="url(#bl)"/>
</g>
<g transform="translate(102.3 15.3) rotate(81)">
<ellipse rx="4.57" ry="4.34" fill="#8c466a"/>
<ellipse rx="3.66" ry="3.47" fill="#b67290"/>
<ellipse cx="0.1" cy="0.1" rx="1.67" ry="1.59" fill="#dcaac2" filter="url(#bl)"/>
</g>
<g transform="translate(116.9 18.1) rotate(61)">
<ellipse rx="4.45" ry="4.43" fill="#864266"/>
<ellipse rx="3.56" ry="3.54" fill="#b06a8a"/>
<ellipse cx="0.4" cy="0.3" rx="2.05" ry="2.04" fill="#d6a0bb" filter="url(#bl)"/>
</g>
<g transform="translate(126.6 12.5) rotate(67)">
<ellipse rx="5.08" ry="4.25" fill="#8c466a"/>
<ellipse rx="4.06" ry="3.40" fill="#aa6486"/>
<ellipse cx="-0.0" cy="-0.1" rx="2.16" ry="1.81" fill="#e2b4ca" filter="url(#bl)"/>
</g>
<g transform="translate(88.4 25.7) rotate(28)">
<ellipse rx="4.70" ry="4.28" fill="#8c466a"/>
<ellipse rx="3.76" ry="3.42" fill="#b67290"/>
<ellipse cx="0.5" cy="0.2" rx="1.84" ry="1.67" fill="#e2b4ca" filter="url(#bl)"/>
</g>
<g transform="translate(101.6 23.6) rotate(134)">
<ellipse rx="4.92" ry="4.21" fill="#8c466a"/>
<ellipse rx="3.94" ry="3.36" fill="#b06a8a"/>
<ellipse cx="0.3" cy="0.1" rx="2.29" ry="1.96" fill="#d6a0bb" filter="url(#bl)"/>
</g>
<g transform="translate(108.6 25.0) rotate(37)">
<ellipse rx="4.60" ry="4.54" fill="#8c466a"/>
<ellipse rx="3.68" ry="3.63" fill="#b67290"/>
<ellipse cx="-0.1" cy="0.4" rx="2.18" ry="2.15" fill="#d6a0bb" filter="url(#bl)"/>
</g>
<g transform="translate(131.5 22.9) rotate(3)">
<ellipse rx="5.10" ry="4.63" fill="#8c466a"/>
<ellipse rx="4.08" ry="3.70" fill="#b06a8a"/>
<ellipse cx="0.1" cy="-0.1" rx="1.85" ry="1.68" fill="#dcaac2" filter="url(#bl)"/>
</g>
<g transform="translate(74.5 31.2) rotate(63)">
<ellipse rx="4.51" ry="4.00" fill="#80405f"/>
<ellipse rx="3.61" ry="3.20" fill="#b06a8a"/>
<ellipse cx="0.3" cy="0.3" rx="1.84" ry="1.63" fill="#dcaac2" filter="url(#bl)"/>
</g>
<g transform="translate(82.9 32.6) rotate(151)">
<ellipse rx="4.64" ry="4.58" fill="#864266"/>
<ellipse rx="3.72" ry="3.66" fill="#aa6486"/>
<ellipse cx="0.1" cy="-0.4" rx="2.05" ry="2.02" fill="#dcaac2" filter="url(#bl)"/>
</g>
<g transform="translate(96.1 31.9) rotate(148)">
<ellipse rx="4.75" ry="4.55" fill="#80405f"/>
<ellipse rx="3.80" ry="3.64" fill="#b67290"/>
<ellipse cx="0.3" cy="0.3" rx="1.95" ry="1.87" fill="#e2b4ca" filter="url(#bl)"/>
</g>
<g transform="translate(110.6 33.3) rotate(8)">
<ellipse rx="5.30" ry="4.35" fill="#864266"/>
<ellipse rx="4.24" ry="3.48" fill="#b67290"/>
<ellipse cx="0.5" cy="0.3" rx="1.97" ry="1.62" fill="#dcaac2" filter="url(#bl)"/>
</g>
<g transform="translate(121.1 34.0) rotate(152)">
<ellipse rx="5.13" ry="4.62" fill="#864266"/>
<ellipse rx="4.11" ry="3.69" fill="#b06a8a"/>
<ellipse cx="-0.0" cy="0.3" rx="2.10" ry="1.89" fill="#e2b4ca" filter="url(#bl)"/>
</g>
<g transform="translate(132.2 34.0) rotate(55)">
<ellipse rx="4.95" ry="4.48" fill="#8c466a"/>
<ellipse rx="3.96" ry="3.58" fill="#b67290"/>
<ellipse cx="-0.3" cy="-0.5" rx="2.11" ry="1.91" fill="#d6a0bb" filter="url(#bl)"/>
</g>
<g transform="translate(73.8 38.2) rotate(80)">
<ellipse rx="4.82" ry="4.44" fill="#8c466a"/>
<ellipse rx="3.86" ry="3.55" fill="#aa6486"/>
<ellipse cx="-0.1" cy="-0.4" rx="2.27" ry="2.09" fill="#dcaac2" filter="url(#bl)"/>
</g>
<g transform="translate(86.3 41.7) rotate(17)">
<ellipse rx="4.81" ry="4.34" fill="#8c466a"/>
<ellipse rx="3.85" ry="3.47" fill="#aa6486"/>
<ellipse cx="-0.4" cy="0.2" rx="2.14" ry="1.93" fill="#d6a0bb" filter="url(#bl)"/>
</g>
<g transform="translate(96.8 43.0) rotate(10)">
<ellipse rx="4.81" ry="4.24" fill="#80405f"/>
<ellipse rx="3.85" ry="3.39" fill="#b67290"/>
<ellipse cx="0.4" cy="0.5" rx="1.78" ry="1.57" fill="#dcaac2" filter="url(#bl)"/>
</g>
<g transform="translate(101.6 39.6) rotate(35)">
<ellipse rx="5.32" ry="4.55" fill="#80405f"/>
<ellipse rx="4.25" ry="3.64" fill="#b67290"/>
<ellipse cx="-0.3" cy="0.3" rx="2.59" ry="2.22" fill="#dcaac2" filter="url(#bl)"/>
</g>
<g transform="translate(112.7 38.9) rotate(110)">
<ellipse rx="5.00" ry="4.48" fill="#864266"/>
<ellipse rx="4.00" ry="3.59" fill="#b06a8a"/>
<ellipse cx="-0.0" cy="-0.2" rx="2.43" ry="2.18" fill="#d6a0bb" filter="url(#bl)"/>
</g>
<g transform="translate(127.3 40.3) rotate(47)">
<ellipse rx="4.70" ry="4.11" fill="#8c466a"/>
<ellipse rx="3.76" ry="3.29" fill="#b06a8a"/>
<ellipse cx="-0.3" cy="0.4" rx="1.77" ry="1.55" fill="#e2b4ca" filter="url(#bl)"/>
</g>
<g transform="translate(75.2 46.5) rotate(30)">
<ellipse rx="4.84" ry="4.01" fill="#80405f"/>
<ellipse rx="3.87" ry="3.21" fill="#aa6486"/>
<ellipse cx="-0.1" cy="0.4" rx="2.16" ry="1.79" fill="#d6a0bb" filter="url(#bl)"/>
</g>
<g transform="translate(82.9 50.0) rotate(124)">
<ellipse rx="4.92" ry="4.11" fill="#80405f"/>
<ellipse rx="3.94" ry="3.29" fill="#b67290"/>
<ellipse cx="0.2" cy="-0.1" rx="2.35" ry="1.97" fill="#e2b4ca" filter="url(#bl)"/>
</g>
<g transform="translate(107.2 47.2) rotate(26)">
<ellipse rx="4.67" ry="4.02" fill="#8c466a"/>
<ellipse rx="3.73" ry="3.22" fill="#aa6486"/>
<ellipse cx="0.5" cy="-0.2" rx="2.06" ry="1.78" fill="#e2b4ca" filter="url(#bl)"/>
</g>
<g transform="translate(119.7 45.1) rotate(115)">
<ellipse rx="5.10" ry="4.41" fill="#80405f"/>
<ellipse rx="4.08" ry="3.53" fill="#aa6486"/>
<ellipse cx="-0.5" cy="-0.5" rx="2.02" ry="1.75" fill="#d6a0bb" filter="url(#bl)"/>
</g>
<g transform="translate(129.4 50.0) rotate(113)">
<ellipse rx="4.89" ry="4.34" fill="#864266"/>
<ellipse rx="3.91" ry="3.47" fill="#aa6486"/>
<ellipse cx="0.1" cy="-0.5" rx="2.07" ry="1.84" fill="#e2b4ca" filter="url(#bl)"/>
</g>
<g transform="translate(71.1 54.9) rotate(64)">
<ellipse rx="4.58" ry="4.18" fill="#864266"/>
<ellipse rx="3.66" ry="3.35" fill="#b06a8a"/>
<ellipse cx="0.1" cy="-0.3" rx="2.00" ry="1.83" fill="#e2b4ca" filter="url(#bl)"/>
</g>
<g transform="translate(80.1 58.3) rotate(24)">
<ellipse rx="4.81" ry="4.00" fill="#80405f"/>
<ellipse rx="3.85" ry="3.20" fill="#aa6486"/>
<ellipse cx="0.1" cy="0.4" rx="1.75" ry="1.46" fill="#dcaac2" filter="url(#bl)"/>
</g>
<g transform="translate(90.5 55.5) rotate(174)">
<ellipse rx="4.64" ry="4.51" fill="#8c466a"/>
<ellipse rx="3.71" ry="3.61" fill="#aa6486"/>
<ellipse cx="0.1" cy="0.1" rx="2.04" ry="1.98" fill="#d6a0bb" filter="url(#bl)"/>
</g>
<g transform="translate(103.7 53.5) rotate(45)">
<ellipse rx="5.00" ry="4.06" fill="#80405f"/>
<ellipse rx="4.00" ry="3.25" fill="#b67290"/>
<ellipse cx="-0.3" cy="-0.4" rx="2.05" ry="1.67" fill="#d6a0bb" filter="url(#bl)"/>
</g>
<g transform="translate(115.5 57.6) rotate(99)">
<ellipse rx="5.12" ry="4.20" fill="#864266"/>
<ellipse rx="4.10" ry="3.36" fill="#b06a8a"/>
<ellipse cx="0.0" cy="0.1" rx="2.26" ry="1.85" fill="#e2b4ca" filter="url(#bl)"/>
</g>
<g transform="translate(128.7 56.2) rotate(56)">
<ellipse rx="5.02" ry="4.32" fill="#80405f"/>
<ellipse rx="4.02" ry="3.46" fill="#b06a8a"/>
<ellipse cx="0.2" cy="-0.5" rx="2.35" ry="2.02" fill="#e2b4ca" filter="url(#bl)"/>
</g>
<g transform="translate(91.9 64.6) rotate(14)">
<ellipse rx="5.06" ry="4.28" fill="#8c466a"/>
<ellipse rx="4.05" ry="3.42" fill="#b67290"/>
<ellipse cx="0.1" cy="-0.4" rx="1.97" ry="1.66" fill="#d6a0bb" filter="url(#bl)"/>
</g>
<g transform="translate(103.0 63.9) rotate(128)">
<ellipse rx="4.78" ry="4.41" fill="#80405f"/>
<ellipse rx="3.83" ry="3.53" fill="#b67290"/>
<ellipse cx="0.0" cy="-0.2" rx="2.24" ry="2.06" fill="#d6a0bb" filter="url(#bl)"/>
</g>
<g transform="translate(118.3 67.4) rotate(158)">
<ellipse rx="4.72" ry="4.29" fill="#80405f"/>
<ellipse rx="3.77" ry="3.43" fill="#b06a8a"/>
<ellipse cx="0.4" cy="0.2" rx="2.18" ry="1.98" fill="#dcaac2" filter="url(#bl)"/>
</g>
<g transform="translate(128.0 65.3) rotate(59)">
<ellipse rx="4.85" ry="4.69" fill="#8c466a"/>
<ellipse rx="3.88" ry="3.75" fill="#b06a8a"/>
<ellipse cx="0.2" cy="0.5" rx="2.20" ry="2.13" fill="#d6a0bb" filter="url(#bl)"/>
</g>
<g transform="translate(73.8 69.4) rotate(126)">
<ellipse rx="4.81" ry="4.13" fill="#8c466a"/>
<ellipse rx="3.85" ry="3.30" fill="#aa6486"/>
<ellipse cx="-0.2" cy="-0.3" rx="2.09" ry="1.80" fill="#e2b4ca" filter="url(#bl)"/>
</g>
<g transform="translate(83.6 68.7) rotate(102)">
<ellipse rx="4.93" ry="4.29" fill="#80405f"/>
<ellipse rx="3.95" ry="3.43" fill="#b67290"/>
<ellipse cx="-0.3" cy="0.5" rx="2.19" ry="1.90" fill="#dcaac2" filter="url(#bl)"/>
</g>
<g transform="translate(92.6 75.0) rotate(7)">
<ellipse rx="5.12" ry="4.58" fill="#80405f"/>
<ellipse rx="4.10" ry="3.66" fill="#b06a8a"/>
<ellipse cx="-0.4" cy="0.1" rx="2.36" ry="2.11" fill="#dcaac2" filter="url(#bl)"/>
</g>
<g transform="translate(101.6 72.2) rotate(160)">
<ellipse rx="4.87" ry="4.76" fill="#8c466a"/>
<ellipse rx="3.90" ry="3.81" fill="#b06a8a"/>
<ellipse cx="-0.4" cy="-0.3" rx="2.39" ry="2.34" fill="#e2b4ca" filter="url(#bl)"/>
</g>
<g transform="translate(112.7 75.7) rotate(171)">
<ellipse rx="5.24" ry="4.66" fill="#864266"/>
<ellipse rx="4.19" ry="3.73" fill="#b06a8a"/>
<ellipse cx="0.1" cy="-0.0" rx="2.42" ry="2.15" fill="#dcaac2" filter="url(#bl)"/>
</g>
<g transform="translate(125.9 77.1) rotate(37)">
<ellipse rx="4.74" ry="4.28" fill="#864266"/>
<ellipse rx="3.79" ry="3.42" fill="#b06a8a"/>
<ellipse cx="-0.2" cy="0.2" rx="1.84" ry="1.66" fill="#e2b4ca" filter="url(#bl)"/>
</g>
<g transform="translate(72.5 79.9) rotate(91)">
<ellipse rx="4.99" ry="4.39" fill="#8c466a"/>
<ellipse rx="3.99" ry="3.51" fill="#aa6486"/>
<ellipse cx="-0.1" cy="0.3" rx="2.06" ry="1.81" fill="#e2b4ca" filter="url(#bl)"/>
</g>
<g transform="translate(81.5 77.1) rotate(9)">
<ellipse rx="4.70" ry="4.30" fill="#8c466a"/>
<ellipse rx="3.76" ry="3.44" fill="#aa6486"/>
<ellipse cx="-0.2" cy="-0.1" rx="2.05" ry="1.88" fill="#e2b4ca" filter="url(#bl)"/>
</g>
<g transform="translate(94.0 82.6) rotate(137)">
<ellipse rx="5.18" ry="4.15" fill="#80405f"/>
<ellipse rx="4.14" ry="3.32" fill="#b06a8a"/>
<ellipse cx="0.3" cy="-0.3" rx="2.19" ry="1.76" fill="#d6a0bb" filter="url(#bl)"/>
</g>
<g transform="translate(109.3 80.5) rotate(172)">
<ellipse rx="4.66" ry="4.21" fill="#8c466a"/>
<ellipse rx="3.73" ry="3.37" fill="#b67290"/>
<ellipse cx="0.4" cy="-0.3" rx="2.20" ry="1.99" fill="#d6a0bb" filter="url(#bl)"/>
</g>
<g transform="translate(131.5 82.6) rotate(138)">
<ellipse rx="4.65" ry="4.43" fill="#864266"/>
<ellipse rx="3.72" ry="3.54" fill="#b06a8a"/>
<ellipse cx="-0.2" cy="-0.4" rx="1.70" ry="1.62" fill="#e2b4ca" filter="url(#bl)"/>
</g>
<g transform="translate(75.9 86.8) rotate(76)">
<ellipse rx="4.80" ry="4.16" fill="#8c466a"/>
<ellipse rx="3.84" ry="3.33" fill="#b67290"/>
<ellipse cx="0.0" cy="-0.3" rx="1.99" ry="1.73" fill="#dcaac2" filter="url(#bl)"/>
</g>
<g transform="translate(82.9 85.4) rotate(23)">
<ellipse rx="4.75" ry="4.31" fill="#80405f"/>
<ellipse rx="3.80" ry="3.45" fill="#b06a8a"/>
<ellipse cx="0.1" cy="0.0" rx="1.69" ry="1.53" fill="#d6a0bb" filter="url(#bl)"/>
</g>
<g transform="translate(100.9 86.8) rotate(134)">
<ellipse rx="4.65" ry="4.26" fill="#8c466a"/>
<ellipse rx="3.72" ry="3.41" fill="#b67290"/>
<ellipse cx="-0.4" cy="-0.0" rx="2.03" ry="1.86" fill="#e2b4ca" filter="url(#bl)"/>
</g>
<g transform="translate(112.0 89.6) rotate(34)">
<ellipse rx="4.56" ry="4.27" fill="#80405f"/>
<ellipse rx="3.65" ry="3.41" fill="#b06a8a"/>
<ellipse cx="-0.3" cy="-0.3" rx="1.70" ry="1.59" fill="#e2b4ca" filter="url(#bl)"/>
</g>
<g transform="translate(121.8 87.5) rotate(63)">
<ellipse rx="4.50" ry="4.38" fill="#8c466a"/>
<ellipse rx="3.60" ry="3.50" fill="#b67290"/>
<ellipse cx="0.5" cy="-0.3" rx="2.22" ry="2.16" fill="#e2b4ca" filter="url(#bl)"/>
</g>
<g transform="translate(69.0 93.7) rotate(69)">
<ellipse rx="4.92" ry="4.37" fill="#80405f"/>
<ellipse rx="3.93" ry="3.49" fill="#b06a8a"/>
<ellipse cx="-0.3" cy="0.1" rx="2.04" ry="1.81" fill="#dcaac2" filter="url(#bl)"/>
</g>
<g transform="translate(80.1 96.5) rotate(159)">
<ellipse rx="4.66" ry="3.92" fill="#864266"/>
<ellipse rx="3.73" ry="3.14" fill="#aa6486"/>
<ellipse cx="-0.3" cy="0.5" rx="1.93" ry="1.63" fill="#dcaac2" filter="url(#bl)"/>
</g>
<g transform="translate(90.5 92.4) rotate(26)">
<ellipse rx="4.86" ry="4.25" fill="#8c466a"/>
<ellipse rx="3.89" ry="3.40" fill="#aa6486"/>
<ellipse cx="-0.1" cy="0.1" rx="2.36" ry="2.07" fill="#dcaac2" filter="url(#bl)"/>
</g>
<g transform="translate(103.7 93.7) rotate(152)">
<ellipse rx="4.71" ry="4.23" fill="#80405f"/>
<ellipse rx="3.77" ry="3.38" fill="#b67290"/>
<ellipse cx="0.1" cy="-0.3" rx="2.10" ry="1.89" fill="#d6a0bb" filter="url(#bl)"/>
</g>
<g transform="translate(117.6 95.1) rotate(82)">
<ellipse rx="4.99" ry="4.62" fill="#864266"/>
<ellipse rx="3.99" ry="3.70" fill="#b67290"/>
<ellipse cx="0.3" cy="0.2" rx="2.06" ry="1.91" fill="#dcaac2" filter="url(#bl)"/>
</g>
<g transform="translate(127.3 96.5) rotate(153)">
<ellipse rx="4.93" ry="4.15" fill="#80405f"/>
<ellipse rx="3.95" ry="3.32" fill="#b06a8a"/>
<ellipse cx="0.2" cy="0.4" rx="2.11" ry="1.78" fill="#d6a0bb" filter="url(#bl)"/>
</g>
</g>
<circle cx="12" cy="74.5" r="2.0" fill="#4a1c9c"/>
<circle cx="14.5" cy="72.8" r="1.4" fill="#5a2cb0"/>
<circle cx="9.5" cy="72.5" r="1.3" fill="#5a2cb0"/>
<circle cx="12.5" cy="77.5" r="1.3" fill="#5a2cb0"/>
<circle cx="15" cy="76.5" r="1.2" fill="#5a2cb0"/>
<circle cx="10" cy="76.8" r="1.1" fill="#5a2cb0"/>
<circle cx="12.6" cy="27.5" r="0.8" fill="#3a2060"/>
<circle cx="93" cy="58" r="0.7" fill="#3a2060"/>
<circle cx="68.5" cy="28.7" r="0.75" fill="#4a2a90"/>
<circle cx="69.5" cy="31" r="0.65" fill="#4a2a90"/>
<circle cx="64.1" cy="36.8" r="0.6" fill="#3a2060"/>
<circle cx="86" cy="80" r="0.6" fill="#3a2060"/>
</svg>
<svg x="301" y="633.5" width="135" height="101" viewBox="0 0 135 101" overflow="hidden">
<rect width="135" height="101" fill="#fcf8f5"/>
<g filter="url(#bl2)">
<g transform="translate(8.3 3.7) rotate(50)">
<ellipse rx="4.30" ry="3.44" fill="#a45874"/>
<ellipse rx="2.15" ry="1.72" fill="#c98a96" filter="url(#bl)"/>
</g>
<g transform="translate(16.7 7.8) rotate(80)">
<ellipse rx="3.96" ry="3.48" fill="#bf6c7e"/>
<ellipse cx="-0.4" cy="-0.1" rx="2.17" ry="1.91" fill="#efd6da" filter="url(#bl)"/>
</g>
<g transform="translate(25.7 8.5) rotate(118)">
<ellipse rx="4.45" ry="3.87" fill="#ad6078"/>
<ellipse cx="-0.5" cy="0.4" rx="2.16" ry="1.88" fill="#fbf2f2" filter="url(#bl)"/>
</g>
<g transform="translate(37.5 2.3) rotate(4)">
<ellipse rx="4.18" ry="3.60" fill="#bf6c7e"/>
<ellipse cx="0.5" cy="-0.4" rx="2.17" ry="1.87" fill="#f8eaec" filter="url(#bl)"/>
</g>
<g transform="translate(44.4 7.8) rotate(133)">
<ellipse rx="4.33" ry="3.76" fill="#a45874"/>
<ellipse cx="0.4" cy="-0.1" rx="2.49" ry="2.16" fill="#fbf2f2" filter="url(#bl)"/>
</g>
<g transform="translate(54.9 3.7) rotate(157)">
<ellipse rx="4.14" ry="3.83" fill="#ad6078"/>
<ellipse cx="0.1" cy="-0.1" rx="2.27" ry="2.10" fill="#f8eaec" filter="url(#bl)"/>
</g>
<g transform="translate(65.3 2.3) rotate(110)">
<ellipse rx="3.78" ry="3.55" fill="#a45874"/>
<ellipse cx="0.2" cy="-0.1" rx="2.21" ry="2.08" fill="#f8eaec" filter="url(#bl)"/>
</g>
<g transform="translate(35.4 12.0) rotate(79)">
<ellipse rx="4.30" ry="3.40" fill="#a45874"/>
<ellipse cx="0.1" cy="-0.0" rx="2.08" ry="1.65" fill="#efd6da" filter="url(#bl)"/>
</g>
<g transform="translate(45.8 14.1) rotate(90)">
<ellipse rx="4.26" ry="3.92" fill="#b05c70"/>
<ellipse cx="-0.2" cy="0.2" rx="2.05" ry="1.89" fill="#f8eaec" filter="url(#bl)"/>
</g>
<g transform="translate(66.7 9.9) rotate(136)">
<ellipse rx="4.21" ry="4.01" fill="#b05c70"/>
<ellipse cx="-0.1" cy="-0.2" rx="2.14" ry="2.04" fill="#f5e2e4" filter="url(#bl)"/>
</g>
<g transform="translate(10.4 18.9) rotate(158)">
<ellipse rx="3.87" ry="3.48" fill="#ad6078"/>
<ellipse cx="-0.0" cy="0.3" rx="1.92" ry="1.73" fill="#f5e2e4" filter="url(#bl)"/>
</g>
<g transform="translate(18.1 26.6) rotate(171)">
<ellipse rx="3.93" ry="3.36" fill="#b86275"/>
<ellipse cx="-0.3" cy="-0.1" rx="2.02" ry="1.72" fill="#f8eaec" filter="url(#bl)"/>
</g>
<g transform="translate(27.8 19.6) rotate(121)">
<ellipse rx="4.01" ry="3.61" fill="#a45874"/>
<ellipse cx="0.3" cy="-0.2" rx="2.08" ry="1.87" fill="#efd6da" filter="url(#bl)"/>
</g>
<g transform="translate(29.2 24.5) rotate(122)">
<ellipse rx="4.19" ry="3.69" fill="#a45874"/>
<ellipse cx="0.1" cy="-0.1" rx="2.30" ry="2.02" fill="#f8eaec" filter="url(#bl)"/>
</g>
<g transform="translate(38.2 20.3) rotate(138)">
<ellipse rx="4.12" ry="3.87" fill="#b05c70"/>
<ellipse cx="-0.4" cy="-0.4" rx="2.47" ry="2.32" fill="#f8eaec" filter="url(#bl)"/>
</g>
<g transform="translate(46.5 24.5) rotate(173)">
<ellipse rx="3.97" ry="3.26" fill="#a45874"/>
<ellipse cx="-0.5" cy="-0.0" rx="1.99" ry="1.63" fill="#fbf2f2" filter="url(#bl)"/>
</g>
<g transform="translate(54.9 18.9) rotate(41)">
<ellipse rx="4.53" ry="3.87" fill="#b86275"/>
<ellipse cx="0.5" cy="-0.3" rx="2.45" ry="2.09" fill="#f5e2e4" filter="url(#bl)"/>
</g>
<g transform="translate(58.3 22.4) rotate(74)">
<ellipse rx="4.58" ry="3.78" fill="#b05c70"/>
<ellipse cx="0.4" cy="-0.5" rx="2.30" ry="1.90" fill="#f8eaec" filter="url(#bl)"/>
</g>
<g transform="translate(2.8 25.2) rotate(83)">
<ellipse rx="4.29" ry="3.53" fill="#a45874"/>
<ellipse cx="0.1" cy="0.2" rx="2.48" ry="2.04" fill="#fbf2f2" filter="url(#bl)"/>
</g>
<g transform="translate(23.6 32.1) rotate(162)">
<ellipse rx="4.42" ry="3.95" fill="#b05c70"/>
<ellipse cx="-0.2" cy="0.4" rx="2.54" ry="2.27" fill="#f5e2e4" filter="url(#bl)"/>
</g>
<g transform="translate(39.6 34.9) rotate(91)">
<ellipse rx="3.75" ry="3.39" fill="#b86275"/>
<ellipse cx="0.4" cy="-0.3" rx="1.92" ry="1.74" fill="#fbf2f2" filter="url(#bl)"/>
</g>
<g transform="translate(52.1 29.4) rotate(144)">
<ellipse rx="3.73" ry="3.32" fill="#b86275"/>
<ellipse cx="-0.4" cy="0.0" rx="1.85" ry="1.65" fill="#efd6da" filter="url(#bl)"/>
</g>
<g transform="translate(56.9 31.4) rotate(170)">
<ellipse rx="4.15" ry="3.89" fill="#a45874"/>
<ellipse rx="2.07" ry="1.94" fill="#c98a96" filter="url(#bl)"/>
</g>
<g transform="translate(50.7 37.0) rotate(95)">
<ellipse rx="3.81" ry="3.54" fill="#b05c70"/>
<ellipse cx="0.3" cy="0.1" rx="2.07" ry="1.92" fill="#efd6da" filter="url(#bl)"/>
</g>
<g transform="translate(2.1 34.9) rotate(172)">
<ellipse rx="4.14" ry="3.54" fill="#bf6c7e"/>
<ellipse cx="0.0" cy="-0.2" rx="2.06" ry="1.76" fill="#efd6da" filter="url(#bl)"/>
</g>
<g transform="translate(8.3 38.4) rotate(74)">
<ellipse rx="3.82" ry="3.25" fill="#ad6078"/>
<ellipse cx="-0.5" cy="0.4" rx="2.08" ry="1.77" fill="#f5e2e4" filter="url(#bl)"/>
</g>
<g transform="translate(16.0 35.6) rotate(88)">
<ellipse rx="3.97" ry="3.19" fill="#a45874"/>
<ellipse cx="0.5" cy="0.4" rx="2.10" ry="1.69" fill="#f8eaec" filter="url(#bl)"/>
</g>
<g transform="translate(27.8 40.5) rotate(85)">
<ellipse rx="3.94" ry="3.57" fill="#bf6c7e"/>
<ellipse cx="-0.0" cy="-0.2" rx="2.32" ry="2.10" fill="#f5e2e4" filter="url(#bl)"/>
</g>
<g transform="translate(42.4 45.3) rotate(111)">
<ellipse rx="4.30" ry="3.40" fill="#b05c70"/>
<ellipse cx="-0.3" cy="-0.3" rx="2.08" ry="1.64" fill="#efd6da" filter="url(#bl)"/>
</g>
<g transform="translate(58.3 43.9) rotate(130)">
<ellipse rx="4.19" ry="3.79" fill="#bf6c7e"/>
<ellipse cx="0.4" cy="0.1" rx="2.30" ry="2.08" fill="#fbf2f2" filter="url(#bl)"/>
</g>
<g transform="translate(65.3 43.2) rotate(4)">
<ellipse rx="4.21" ry="3.81" fill="#b05c70"/>
<ellipse cx="0.4" cy="0.0" rx="2.29" ry="2.08" fill="#efd6da" filter="url(#bl)"/>
</g>
<g transform="translate(11.8 45.3) rotate(153)">
<ellipse rx="4.26" ry="3.89" fill="#b05c70"/>
<ellipse cx="0.3" cy="0.4" rx="2.42" ry="2.21" fill="#f5e2e4" filter="url(#bl)"/>
</g>
<g transform="translate(22.9 49.5) rotate(160)">
<ellipse rx="3.99" ry="3.78" fill="#bf6c7e"/>
<ellipse cx="0.4" cy="-0.4" rx="1.96" ry="1.86" fill="#fbf2f2" filter="url(#bl)"/>
</g>
<g transform="translate(11.1 49.5) rotate(70)">
<ellipse rx="4.19" ry="3.95" fill="#b86275"/>
<ellipse cx="-0.3" cy="0.1" rx="2.36" ry="2.23" fill="#fbf2f2" filter="url(#bl)"/>
</g>
<g transform="translate(36.1 52.3) rotate(36)">
<ellipse rx="4.20" ry="3.83" fill="#b86275"/>
<ellipse cx="0.0" cy="0.3" rx="2.07" ry="1.89" fill="#f8eaec" filter="url(#bl)"/>
</g>
<g transform="translate(52.8 50.9) rotate(145)">
<ellipse rx="4.01" ry="3.27" fill="#a45874"/>
<ellipse cx="0.4" cy="-0.0" rx="2.22" ry="1.81" fill="#f5e2e4" filter="url(#bl)"/>
</g>
<g transform="translate(1.4 46.0) rotate(21)">
<ellipse rx="4.23" ry="3.66" fill="#b05c70"/>
<ellipse cx="0.1" cy="-0.4" rx="2.37" ry="2.05" fill="#f5e2e4" filter="url(#bl)"/>
</g>
<g transform="translate(11.1 58.5) rotate(138)">
<ellipse rx="4.31" ry="3.84" fill="#ad6078"/>
<ellipse cx="0.1" cy="-0.5" rx="2.29" ry="2.04" fill="#f8eaec" filter="url(#bl)"/>
</g>
<g transform="translate(44.4 57.1) rotate(33)">
<ellipse rx="4.29" ry="3.92" fill="#b86275"/>
<ellipse cx="-0.3" cy="0.0" rx="2.16" ry="1.97" fill="#f5e2e4" filter="url(#bl)"/>
</g>
<g transform="translate(62.5 56.4) rotate(161)">
<ellipse rx="4.39" ry="3.84" fill="#b86275"/>
<ellipse cx="-0.1" cy="0.1" rx="2.44" ry="2.13" fill="#fbf2f2" filter="url(#bl)"/>
</g>
<g transform="translate(32.6 57.8) rotate(145)">
<ellipse rx="3.93" ry="3.76" fill="#a45874"/>
<ellipse cx="0.3" cy="-0.1" rx="2.25" ry="2.16" fill="#fbf2f2" filter="url(#bl)"/>
</g>
<g transform="translate(4.9 63.4) rotate(138)">
<ellipse rx="4.11" ry="3.45" fill="#bf6c7e"/>
<ellipse cx="-0.2" cy="-0.0" rx="2.01" ry="1.69" fill="#fbf2f2" filter="url(#bl)"/>
</g>
<g transform="translate(18.1 64.8) rotate(178)">
<ellipse rx="4.21" ry="3.29" fill="#b86275"/>
<ellipse cx="-0.2" cy="-0.3" rx="2.50" ry="1.96" fill="#fbf2f2" filter="url(#bl)"/>
</g>
<g transform="translate(32.6 64.1) rotate(96)">
<ellipse rx="3.86" ry="3.69" fill="#ad6078"/>
<ellipse cx="0.3" cy="0.5" rx="2.18" ry="2.08" fill="#f5e2e4" filter="url(#bl)"/>
</g>
<g transform="translate(47.2 66.2) rotate(111)">
<ellipse rx="4.39" ry="3.61" fill="#b86275"/>
<ellipse cx="-0.3" cy="-0.1" rx="2.13" ry="1.76" fill="#f8eaec" filter="url(#bl)"/>
</g>
<g transform="translate(18.1 68.9) rotate(45)">
<ellipse rx="4.27" ry="3.61" fill="#b86275"/>
<ellipse cx="0.1" cy="0.5" rx="2.54" ry="2.15" fill="#fbf2f2" filter="url(#bl)"/>
</g>
<g transform="translate(62.5 68.9) rotate(99)">
<ellipse rx="4.40" ry="4.05" fill="#ad6078"/>
<ellipse cx="-0.1" cy="0.5" rx="2.61" ry="2.40" fill="#f8eaec" filter="url(#bl)"/>
</g>
<g transform="translate(8.3 71.7) rotate(77)">
<ellipse rx="4.07" ry="3.46" fill="#ad6078"/>
<ellipse cx="0.0" cy="-0.0" rx="2.11" ry="1.79" fill="#f8eaec" filter="url(#bl)"/>
</g>
<g transform="translate(18.1 75.9) rotate(119)">
<ellipse rx="4.50" ry="3.57" fill="#bf6c7e"/>
<ellipse cx="0.1" cy="-0.1" rx="2.48" ry="1.96" fill="#fbf2f2" filter="url(#bl)"/>
</g>
<g transform="translate(30.6 75.2) rotate(162)">
<ellipse rx="4.44" ry="3.53" fill="#ad6078"/>
<ellipse cx="-0.4" cy="0.4" rx="2.63" ry="2.10" fill="#f8eaec" filter="url(#bl)"/>
</g>
<g transform="translate(59.7 75.2) rotate(45)">
<ellipse rx="3.98" ry="3.16" fill="#ad6078"/>
<ellipse rx="1.99" ry="1.58" fill="#c98a96" filter="url(#bl)"/>
</g>
<g transform="translate(2.8 78.7) rotate(176)">
<ellipse rx="4.12" ry="3.55" fill="#ad6078"/>
<ellipse rx="2.06" ry="1.77" fill="#c98a96" filter="url(#bl)"/>
</g>
<g transform="translate(21.5 83.5) rotate(82)">
<ellipse rx="4.21" ry="3.56" fill="#a45874"/>
<ellipse cx="-0.1" cy="0.2" rx="2.08" ry="1.76" fill="#efd6da" filter="url(#bl)"/>
</g>
<g transform="translate(43.8 82.8) rotate(115)">
<ellipse rx="4.20" ry="3.54" fill="#ad6078"/>
<ellipse cx="-0.4" cy="-0.2" rx="2.43" ry="2.04" fill="#fbf2f2" filter="url(#bl)"/>
</g>
<g transform="translate(53.5 81.4) rotate(87)">
<ellipse rx="4.39" ry="3.74" fill="#b05c70"/>
<ellipse cx="-0.2" cy="0.1" rx="2.55" ry="2.17" fill="#f5e2e4" filter="url(#bl)"/>
</g>
<g transform="translate(4.2 82.8) rotate(114)">
<ellipse rx="4.20" ry="3.41" fill="#a45874"/>
<ellipse cx="0.4" cy="0.4" rx="2.51" ry="2.04" fill="#f5e2e4" filter="url(#bl)"/>
</g>
<g transform="translate(9.7 88.4) rotate(2)">
<ellipse rx="3.80" ry="3.18" fill="#b86275"/>
<ellipse rx="1.90" ry="1.59" fill="#c98a96" filter="url(#bl)"/>
</g>
<g transform="translate(29.2 88.4) rotate(13)">
<ellipse rx="4.01" ry="3.79" fill="#b05c70"/>
<ellipse cx="-0.1" cy="-0.0" rx="2.23" ry="2.10" fill="#fbf2f2" filter="url(#bl)"/>
</g>
<g transform="translate(44.4 88.4) rotate(62)">
<ellipse rx="4.40" ry="3.95" fill="#b05c70"/>
<ellipse rx="2.20" ry="1.97" fill="#c98a96" filter="url(#bl)"/>
</g>
<g transform="translate(63.9 88.4) rotate(146)">
<ellipse rx="4.07" ry="3.66" fill="#b86275"/>
<ellipse cx="-0.2" cy="0.3" rx="2.16" ry="1.94" fill="#efd6da" filter="url(#bl)"/>
</g>
<g transform="translate(20.8 91.9) rotate(118)">
<ellipse rx="4.13" ry="3.34" fill="#bf6c7e"/>
<ellipse cx="0.4" cy="-0.1" rx="2.35" ry="1.90" fill="#f5e2e4" filter="url(#bl)"/>
</g>
<g transform="translate(56.9 91.9) rotate(83)">
<ellipse rx="3.96" ry="3.57" fill="#bf6c7e"/>
<ellipse cx="0.3" cy="-0.0" rx="2.17" ry="1.96" fill="#f8eaec" filter="url(#bl)"/>
</g>
<g transform="translate(4.2 95.3) rotate(56)">
<ellipse rx="4.58" ry="3.90" fill="#b86275"/>
<ellipse cx="0.3" cy="-0.2" rx="2.47" ry="2.11" fill="#f8eaec" filter="url(#bl)"/>
</g>
<g transform="translate(27.1 96.7) rotate(64)">
<ellipse rx="4.38" ry="3.67" fill="#b05c70"/>
<ellipse rx="2.19" ry="1.84" fill="#c98a96" filter="url(#bl)"/>
</g>
<g transform="translate(34.7 93.9) rotate(79)">
<ellipse rx="4.07" ry="3.35" fill="#ad6078"/>
<ellipse cx="0.4" cy="0.4" rx="2.15" ry="1.77" fill="#fbf2f2" filter="url(#bl)"/>
</g>
<g transform="translate(65.3 96.7) rotate(65)">
<ellipse rx="3.94" ry="3.44" fill="#b05c70"/>
<ellipse cx="-0.3" cy="0.1" rx="2.07" ry="1.81" fill="#f8eaec" filter="url(#bl)"/>
</g>
<g transform="translate(81.6 3.7) rotate(151)">
<ellipse rx="3.95" ry="3.27" fill="#ad6078"/>
<ellipse cx="-0.2" cy="-0.5" rx="2.31" ry="1.92" fill="#f5e2e4" filter="url(#bl)"/>
</g>
<g transform="translate(82.3 8.5) rotate(98)">
<ellipse rx="3.93" ry="3.66" fill="#a45874"/>
<ellipse cx="-0.4" cy="0.0" rx="2.27" ry="2.11" fill="#f8eaec" filter="url(#bl)"/>
</g>
<g transform="translate(91.3 6.4) rotate(60)">
<ellipse rx="4.18" ry="3.54" fill="#a45874"/>
<ellipse cx="0.2" cy="-0.4" rx="2.02" ry="1.71" fill="#f8eaec" filter="url(#bl)"/>
</g>
<g transform="translate(108.0 7.8) rotate(128)">
<ellipse rx="3.96" ry="3.69" fill="#ad6078"/>
<ellipse cx="-0.1" cy="0.3" rx="2.12" ry="1.97" fill="#f5e2e4" filter="url(#bl)"/>
</g>
<g transform="translate(119.1 9.2) rotate(89)">
<ellipse rx="4.18" ry="3.78" fill="#bf6c7e"/>
<ellipse cx="-0.1" cy="0.3" rx="2.47" ry="2.23" fill="#f5e2e4" filter="url(#bl)"/>
</g>
<g transform="translate(119.8 0.9) rotate(145)">
<ellipse rx="4.26" ry="3.81" fill="#bf6c7e"/>
<ellipse cx="0.0" cy="0.2" rx="2.37" ry="2.12" fill="#f8eaec" filter="url(#bl)"/>
</g>
<g transform="translate(130.9 12.7) rotate(166)">
<ellipse rx="4.16" ry="3.35" fill="#b86275"/>
<ellipse cx="0.2" cy="-0.2" rx="2.31" ry="1.86" fill="#efd6da" filter="url(#bl)"/>
</g>
<g transform="translate(76.7 16.9) rotate(95)">
<ellipse rx="4.15" ry="3.95" fill="#ad6078"/>
<ellipse cx="-0.2" cy="-0.3" rx="2.35" ry="2.24" fill="#efd6da" filter="url(#bl)"/>
</g>
<g transform="translate(88.5 16.2) rotate(136)">
<ellipse rx="3.72" ry="3.45" fill="#b05c70"/>
<ellipse cx="-0.3" cy="-0.1" rx="1.93" ry="1.78" fill="#f8eaec" filter="url(#bl)"/>
</g>
<g transform="translate(100.3 14.1) rotate(108)">
<ellipse rx="4.20" ry="3.70" fill="#a45874"/>
<ellipse cx="-0.1" cy="0.4" rx="2.46" ry="2.17" fill="#f5e2e4" filter="url(#bl)"/>
</g>
<g transform="translate(120.5 18.2) rotate(154)">
<ellipse rx="3.92" ry="3.40" fill="#bf6c7e"/>
<ellipse cx="0.3" cy="-0.4" rx="2.19" ry="1.90" fill="#efd6da" filter="url(#bl)"/>
</g>
<g transform="translate(126.0 20.3) rotate(9)">
<ellipse rx="4.30" ry="3.75" fill="#b05c70"/>
<ellipse cx="0.0" cy="-0.2" rx="2.34" ry="2.04" fill="#efd6da" filter="url(#bl)"/>
</g>
<g transform="translate(69.1 25.9) rotate(161)">
<ellipse rx="4.15" ry="3.71" fill="#b86275"/>
<ellipse cx="-0.1" cy="0.4" rx="2.12" ry="1.89" fill="#f5e2e4" filter="url(#bl)"/>
</g>
<g transform="translate(84.4 25.2) rotate(139)">
<ellipse rx="3.85" ry="3.74" fill="#ad6078"/>
<ellipse cx="0.2" cy="0.1" rx="1.91" ry="1.85" fill="#f5e2e4" filter="url(#bl)"/>
</g>
<g transform="translate(87.8 28.7) rotate(27)">
<ellipse rx="4.52" ry="3.56" fill="#a45874"/>
<ellipse cx="0.3" cy="-0.4" rx="2.63" ry="2.07" fill="#f8eaec" filter="url(#bl)"/>
</g>
<g transform="translate(96.9 25.2) rotate(160)">
<ellipse rx="4.39" ry="3.53" fill="#bf6c7e"/>
<ellipse cx="0.0" cy="-0.5" rx="2.39" ry="1.93" fill="#f8eaec" filter="url(#bl)"/>
</g>
<g transform="translate(104.5 21.7) rotate(35)">
<ellipse rx="4.11" ry="3.69" fill="#b05c70"/>
<ellipse cx="-0.1" cy="-0.0" rx="1.99" ry="1.79" fill="#efd6da" filter="url(#bl)"/>
</g>
<g transform="translate(109.4 29.4) rotate(56)">
<ellipse rx="4.13" ry="3.69" fill="#bf6c7e"/>
<ellipse cx="-0.1" cy="0.2" rx="2.34" ry="2.09" fill="#fbf2f2" filter="url(#bl)"/>
</g>
<g transform="translate(130.9 23.1) rotate(122)">
<ellipse rx="4.09" ry="3.64" fill="#b86275"/>
<ellipse cx="0.4" cy="0.2" rx="2.18" ry="1.94" fill="#efd6da" filter="url(#bl)"/>
</g>
<g transform="translate(77.4 31.4) rotate(53)">
<ellipse rx="3.90" ry="3.72" fill="#ad6078"/>
<ellipse cx="0.2" cy="0.4" rx="2.27" ry="2.17" fill="#f5e2e4" filter="url(#bl)"/>
</g>
<g transform="translate(86.4 36.3) rotate(113)">
<ellipse rx="4.54" ry="3.93" fill="#b05c70"/>
<ellipse cx="0.1" cy="-0.4" rx="2.59" ry="2.24" fill="#fbf2f2" filter="url(#bl)"/>
</g>
<g transform="translate(94.8 34.2) rotate(68)">
<ellipse rx="4.02" ry="3.59" fill="#b05c70"/>
<ellipse cx="0.1" cy="-0.1" rx="2.16" ry="1.92" fill="#f5e2e4" filter="url(#bl)"/>
</g>
<g transform="translate(108.7 37.7) rotate(18)">
<ellipse rx="3.98" ry="3.25" fill="#ad6078"/>
<ellipse cx="-0.3" cy="-0.5" rx="1.99" ry="1.63" fill="#f8eaec" filter="url(#bl)"/>
</g>
<g transform="translate(126.0 38.4) rotate(18)">
<ellipse rx="4.16" ry="4.14" fill="#ad6078"/>
<ellipse cx="-0.2" cy="0.3" rx="2.38" ry="2.37" fill="#f8eaec" filter="url(#bl)"/>
</g>
<g transform="translate(91.3 42.6) rotate(117)">
<ellipse rx="4.10" ry="3.66" fill="#a45874"/>
<ellipse cx="-0.1" cy="-0.5" rx="2.13" ry="1.90" fill="#f5e2e4" filter="url(#bl)"/>
</g>
<g transform="translate(98.2 47.4) rotate(177)">
<ellipse rx="4.14" ry="3.60" fill="#ad6078"/>
<ellipse cx="-0.2" cy="-0.2" rx="2.00" ry="1.74" fill="#fbf2f2" filter="url(#bl)"/>
</g>
<g transform="translate(108.0 48.8) rotate(100)">
<ellipse rx="4.14" ry="3.66" fill="#ad6078"/>
<ellipse cx="0.2" cy="-0.2" rx="2.04" ry="1.80" fill="#f8eaec" filter="url(#bl)"/>
</g>
<g transform="translate(116.3 41.9) rotate(99)">
<ellipse rx="3.98" ry="3.55" fill="#a45874"/>
<ellipse cx="0.5" cy="0.0" rx="2.25" ry="2.01" fill="#fbf2f2" filter="url(#bl)"/>
</g>
<g transform="translate(121.2 48.8) rotate(113)">
<ellipse rx="3.89" ry="3.31" fill="#b05c70"/>
<ellipse cx="0.2" cy="-0.2" rx="2.14" ry="1.82" fill="#f8eaec" filter="url(#bl)"/>
</g>
<g transform="translate(128.1 47.4) rotate(83)">
<ellipse rx="3.74" ry="3.67" fill="#bf6c7e"/>
<ellipse cx="0.0" cy="0.1" rx="2.20" ry="2.16" fill="#fbf2f2" filter="url(#bl)"/>
</g>
<g transform="translate(70.5 43.2) rotate(30)">
<ellipse rx="4.03" ry="3.64" fill="#a45874"/>
<ellipse cx="0.4" cy="-0.5" rx="2.00" ry="1.81" fill="#fbf2f2" filter="url(#bl)"/>
</g>
<g transform="translate(76.0 50.9) rotate(136)">
<ellipse rx="4.11" ry="3.48" fill="#bf6c7e"/>
<ellipse cx="-0.0" cy="-0.1" rx="2.37" ry="2.01" fill="#f5e2e4" filter="url(#bl)"/>
</g>
<g transform="translate(85.8 55.8) rotate(136)">
<ellipse rx="4.16" ry="3.72" fill="#b05c70"/>
<ellipse cx="0.3" cy="-0.3" rx="2.31" ry="2.07" fill="#fbf2f2" filter="url(#bl)"/>
</g>
<g transform="translate(101.0 55.1) rotate(6)">
<ellipse rx="4.20" ry="3.46" fill="#ad6078"/>
<ellipse cx="-0.4" cy="-0.3" rx="2.19" ry="1.80" fill="#efd6da" filter="url(#bl)"/>
</g>
<g transform="translate(116.3 60.6) rotate(116)">
<ellipse rx="3.85" ry="3.66" fill="#bf6c7e"/>
<ellipse cx="0.1" cy="-0.0" rx="2.29" ry="2.18" fill="#f8eaec" filter="url(#bl)"/>
</g>
<g transform="translate(128.8 55.8) rotate(135)">
<ellipse rx="4.10" ry="3.87" fill="#ad6078"/>
<ellipse cx="-0.1" cy="-0.1" rx="2.39" ry="2.26" fill="#efd6da" filter="url(#bl)"/>
</g>
<g transform="translate(72.6 64.8) rotate(163)">
<ellipse rx="4.39" ry="3.85" fill="#a45874"/>
<ellipse cx="-0.2" cy="-0.4" rx="2.58" ry="2.27" fill="#f8eaec" filter="url(#bl)"/>
</g>
<g transform="translate(82.3 65.5) rotate(132)">
<ellipse rx="4.17" ry="3.76" fill="#a45874"/>
<ellipse cx="-0.4" cy="-0.4" rx="2.30" ry="2.07" fill="#efd6da" filter="url(#bl)"/>
</g>
<g transform="translate(90.6 67.6) rotate(90)">
<ellipse rx="4.12" ry="3.41" fill="#ad6078"/>
<ellipse cx="-0.3" cy="-0.2" rx="2.24" ry="1.85" fill="#f5e2e4" filter="url(#bl)"/>
</g>
<g transform="translate(99.6 68.2) rotate(158)">
<ellipse rx="4.57" ry="3.93" fill="#ad6078"/>
<ellipse cx="0.0" cy="0.1" rx="2.40" ry="2.06" fill="#f5e2e4" filter="url(#bl)"/>
</g>
<g transform="translate(111.4 67.6) rotate(117)">
<ellipse rx="3.93" ry="3.28" fill="#b05c70"/>
<ellipse rx="1.97" ry="1.64" fill="#c98a96" filter="url(#bl)"/>
</g>
<g transform="translate(125.3 66.2) rotate(22)">
<ellipse rx="3.97" ry="3.70" fill="#a45874"/>
<ellipse rx="1.98" ry="1.85" fill="#c98a96" filter="url(#bl)"/>
</g>
<g transform="translate(132.3 63.4) rotate(4)">
<ellipse rx="4.19" ry="3.78" fill="#b05c70"/>
<ellipse cx="-0.4" cy="0.2" rx="2.28" ry="2.06" fill="#fbf2f2" filter="url(#bl)"/>
</g>
<g transform="translate(69.8 73.1) rotate(55)">
<ellipse rx="4.28" ry="3.67" fill="#b05c70"/>
<ellipse cx="0.3" cy="0.3" rx="2.13" ry="1.82" fill="#f8eaec" filter="url(#bl)"/>
</g>
<g transform="translate(78.1 74.5) rotate(53)">
<ellipse rx="4.19" ry="3.72" fill="#b05c70"/>
<ellipse cx="-0.1" cy="-0.0" rx="2.43" ry="2.16" fill="#f5e2e4" filter="url(#bl)"/>
</g>
<g transform="translate(91.3 75.9) rotate(96)">
<ellipse rx="3.85" ry="3.72" fill="#b05c70"/>
<ellipse cx="-0.2" cy="0.3" rx="2.15" ry="2.07" fill="#f5e2e4" filter="url(#bl)"/>
</g>
<g transform="translate(102.4 77.3) rotate(128)">
<ellipse rx="4.08" ry="3.85" fill="#bf6c7e"/>
<ellipse cx="-0.4" cy="-0.3" rx="2.18" ry="2.05" fill="#efd6da" filter="url(#bl)"/>
</g>
<g transform="translate(111.4 75.9) rotate(128)">
<ellipse rx="4.22" ry="3.65" fill="#bf6c7e"/>
<ellipse cx="0.3" cy="-0.1" rx="2.36" ry="2.04" fill="#f8eaec" filter="url(#bl)"/>
</g>
<g transform="translate(131.6 73.8) rotate(106)">
<ellipse rx="3.85" ry="3.38" fill="#a45874"/>
<ellipse cx="-0.2" cy="0.1" rx="2.16" ry="1.89" fill="#f8eaec" filter="url(#bl)"/>
</g>
<g transform="translate(80.2 82.8) rotate(177)">
<ellipse rx="4.34" ry="3.85" fill="#b86275"/>
<ellipse cx="0.1" cy="-0.2" rx="2.11" ry="1.87" fill="#efd6da" filter="url(#bl)"/>
</g>
<g transform="translate(83.7 80.1) rotate(145)">
<ellipse rx="4.13" ry="3.68" fill="#bf6c7e"/>
<ellipse cx="-0.2" cy="0.0" rx="2.11" ry="1.88" fill="#efd6da" filter="url(#bl)"/>
</g>
<g transform="translate(89.2 88.4) rotate(178)">
<ellipse rx="3.97" ry="3.65" fill="#b05c70"/>
<ellipse cx="0.4" cy="-0.0" rx="2.09" ry="1.92" fill="#f5e2e4" filter="url(#bl)"/>
</g>
<g transform="translate(100.3 87.7) rotate(100)">
<ellipse rx="4.16" ry="3.51" fill="#b05c70"/>
<ellipse cx="0.0" cy="0.0" rx="2.39" ry="2.02" fill="#f8eaec" filter="url(#bl)"/>
</g>
<g transform="translate(105.9 90.5) rotate(107)">
<ellipse rx="4.04" ry="3.24" fill="#a45874"/>
<ellipse cx="0.0" cy="-0.2" rx="2.27" ry="1.82" fill="#f5e2e4" filter="url(#bl)"/>
</g>
<g transform="translate(113.5 85.6) rotate(88)">
<ellipse rx="3.77" ry="3.45" fill="#b05c70"/>
<ellipse cx="0.1" cy="0.2" rx="1.82" ry="1.67" fill="#fbf2f2" filter="url(#bl)"/>
</g>
<g transform="translate(123.9 87.0) rotate(157)">
<ellipse rx="4.22" ry="3.64" fill="#a45874"/>
<ellipse rx="2.11" ry="1.82" fill="#c98a96" filter="url(#bl)"/>
</g>
<g transform="translate(131.6 82.8) rotate(91)">
<ellipse rx="4.10" ry="3.69" fill="#ad6078"/>
<ellipse rx="2.05" ry="1.85" fill="#c98a96" filter="url(#bl)"/>
</g>
<g transform="translate(73.9 89.1) rotate(102)">
<ellipse rx="4.26" ry="3.89" fill="#b86275"/>
<ellipse cx="-0.2" cy="-0.5" rx="2.12" ry="1.93" fill="#f5e2e4" filter="url(#bl)"/>
</g>
<g transform="translate(80.9 93.9) rotate(138)">
<ellipse rx="4.00" ry="3.59" fill="#bf6c7e"/>
<ellipse cx="-0.3" cy="-0.0" rx="2.10" ry="1.89" fill="#fbf2f2" filter="url(#bl)"/>
</g>
<g transform="translate(96.2 94.6) rotate(11)">
<ellipse rx="4.26" ry="3.70" fill="#a45874"/>
<ellipse cx="-0.5" cy="-0.0" rx="2.54" ry="2.21" fill="#efd6da" filter="url(#bl)"/>
</g>
<g transform="translate(108.7 96.7) rotate(26)">
<ellipse rx="4.16" ry="3.81" fill="#a45874"/>
<ellipse rx="2.08" ry="1.90" fill="#c98a96" filter="url(#bl)"/>
</g>
<g transform="translate(117.0 95.3) rotate(160)">
<ellipse rx="3.86" ry="3.47" fill="#b05c70"/>
<ellipse cx="-0.4" cy="-0.5" rx="2.05" ry="1.84" fill="#efd6da" filter="url(#bl)"/>
</g>
<g transform="translate(125.3 96.7) rotate(53)">
<ellipse rx="3.79" ry="3.66" fill="#a45874"/>
<ellipse cx="-0.3" cy="-0.2" rx="1.86" ry="1.80" fill="#f5e2e4" filter="url(#bl)"/>
</g>
<g transform="translate(133.0 91.9) rotate(7)">
<ellipse rx="4.20" ry="3.81" fill="#a45874"/>
<ellipse rx="2.10" ry="1.91" fill="#c98a96" filter="url(#bl)"/>
</g>
<g transform="translate(72.6 99.5) rotate(83)">
<ellipse rx="3.86" ry="3.60" fill="#bf6c7e"/>
<ellipse cx="-0.3" cy="-0.2" rx="2.21" ry="2.07" fill="#f5e2e4" filter="url(#bl)"/>
</g>
<g transform="translate(89.2 100.2) rotate(86)">
<ellipse rx="3.94" ry="3.55" fill="#b05c70"/>
<ellipse cx="-0.0" cy="0.1" rx="2.12" ry="1.91" fill="#f5e2e4" filter="url(#bl)"/>
</g>
<g transform="translate(111.4 100.2) rotate(37)">
<ellipse rx="4.11" ry="3.42" fill="#b05c70"/>
<ellipse cx="-0.2" cy="-0.5" rx="2.15" ry="1.79" fill="#efd6da" filter="url(#bl)"/>
</g>
</g>
<circle cx="82.97222222222223" cy="41.166666666666664" r="0.8" fill="#2a2a9a"/>
<circle cx="103.80555555555556" cy="31.444444444444443" r="0.8" fill="#2a2a9a"/>
<circle cx="104.5" cy="27.27777777777778" r="0.8" fill="#2a2a9a"/>
<circle cx="112.83333333333334" cy="55.05555555555556" r="0.8" fill="#2a2a9a"/>
<circle cx="126.72222222222223" cy="25.194444444444443" r="0.8" fill="#2a2a9a"/>
<circle cx="112.83333333333334" cy="12.694444444444445" r="0.8" fill="#2a2a9a"/>
<circle cx="10.416666666666666" cy="79.36111111111111" r="0.8" fill="#2a2a9a"/>
<circle cx="32.638888888888886" cy="56.44444444444444" r="0.8" fill="#2a2a9a"/>
<circle cx="38.19444444444444" cy="58.52777777777778" r="0.8" fill="#2a2a9a"/>
<circle cx="62.5" cy="25.194444444444443" r="0.8" fill="#2a2a9a"/>
</svg>
<text x="128.5" y="626.8" font-size="12.3" font-weight="bold" fill="#000" stroke="#000" stroke-width="0.5">J</text>
<text x="288.8" y="627" font-size="12.3" font-weight="bold" fill="#000" stroke="#000" stroke-width="0.5">K</text>
<rect x="0.5" y="0.5" width="519" height="741" fill="none" stroke="#404040" stroke-width="1"/>
</svg></body></html>
